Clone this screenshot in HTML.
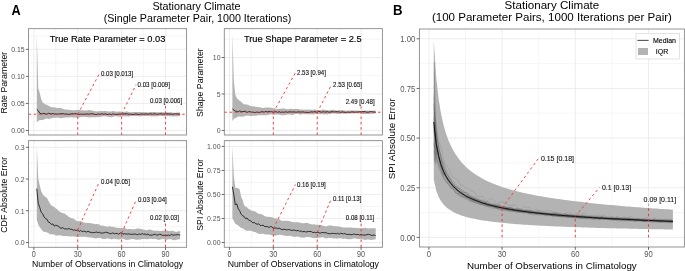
<!DOCTYPE html>
<html><head><meta charset="utf-8"><style>
html,body{margin:0;padding:0;background:#fff;}
body{width:685px;height:271px;overflow:hidden;}
svg{display:block;will-change:transform;}
</style></head><body>
<svg width="685" height="271" viewBox="0 0 685 271" font-family='"Liberation Sans", sans-serif'>
<rect width="685" height="271" fill="#fff"/>
<text x="11.50" y="14.90" font-size="13.4" text-anchor="start" fill="#000" font-weight="bold" transform="translate(11.50 14.90) scale(0.95 1.07) translate(-11.50 -14.90)">A</text>
<text x="196.50" y="9.90" font-size="10.8" text-anchor="middle" fill="#000" font-weight="normal">Stationary Climate</text>
<text x="197.50" y="21.50" font-size="10.7" text-anchor="middle" fill="#000" font-weight="normal">(Single Parameter Pair, 1000 Iterations)</text>
<line x1="28.50" x2="186.60" y1="116.95" y2="116.95" stroke="#f0f0f0" stroke-width="0.6"/>
<line x1="28.50" x2="186.60" y1="89.92" y2="89.92" stroke="#f0f0f0" stroke-width="0.6"/>
<line x1="28.50" x2="186.60" y1="62.89" y2="62.89" stroke="#f0f0f0" stroke-width="0.6"/>
<line x1="28.50" x2="186.60" y1="35.86" y2="35.86" stroke="#f0f0f0" stroke-width="0.6"/>
<line y1="28.65" y2="135.00" x1="55.79" x2="55.79" stroke="#f0f0f0" stroke-width="0.6"/>
<line y1="28.65" y2="135.00" x1="99.68" x2="99.68" stroke="#f0f0f0" stroke-width="0.6"/>
<line y1="28.65" y2="135.00" x1="143.56" x2="143.56" stroke="#f0f0f0" stroke-width="0.6"/>
<line x1="28.50" x2="186.60" y1="130.46" y2="130.46" stroke="#ebebeb" stroke-width="0.9"/>
<line x1="28.50" x2="186.60" y1="103.43" y2="103.43" stroke="#ebebeb" stroke-width="0.9"/>
<line x1="28.50" x2="186.60" y1="76.40" y2="76.40" stroke="#ebebeb" stroke-width="0.9"/>
<line x1="28.50" x2="186.60" y1="49.37" y2="49.37" stroke="#ebebeb" stroke-width="0.9"/>
<line y1="28.65" y2="135.00" x1="33.85" x2="33.85" stroke="#ebebeb" stroke-width="0.9"/>
<line y1="28.65" y2="135.00" x1="77.73" x2="77.73" stroke="#ebebeb" stroke-width="0.9"/>
<line y1="28.65" y2="135.00" x1="121.62" x2="121.62" stroke="#ebebeb" stroke-width="0.9"/>
<line y1="28.65" y2="135.00" x1="165.50" x2="165.50" stroke="#ebebeb" stroke-width="0.9"/>
<path d="M36.78,33.69 L38.24,88.29 L39.70,92.76 L41.16,99.05 L42.63,102.46 L44.09,103.61 L45.55,104.48 L47.02,104.82 L48.48,105.71 L49.94,106.44 L51.40,107.30 L52.87,107.26 L54.33,107.37 L55.79,107.71 L57.25,107.89 L58.72,107.99 L60.18,107.89 L61.64,108.29 L63.11,108.90 L64.57,109.40 L66.03,109.60 L67.49,109.79 L68.96,109.84 L70.42,110.11 L71.88,110.24 L73.35,110.21 L74.81,110.22 L76.27,109.92 L77.73,109.99 L79.20,109.98 L80.66,110.23 L82.12,110.24 L83.59,110.41 L85.05,110.58 L86.51,110.49 L87.97,110.31 L89.44,110.11 L90.90,110.31 L92.36,110.68 L93.82,111.02 L95.29,111.26 L96.75,111.42 L98.21,111.23 L99.68,111.22 L101.14,110.92 L102.60,111.13 L104.06,110.92 L105.53,110.97 L106.99,111.18 L108.45,111.55 L109.92,111.56 L111.38,111.39 L112.84,111.08 L114.30,111.34 L115.77,111.55 L117.23,111.74 L118.69,111.60 L120.16,111.54 L121.62,111.81 L123.08,112.03 L124.54,111.76 L126.01,111.49 L127.47,111.61 L128.93,111.95 L130.39,112.26 L131.86,112.31 L133.32,112.09 L134.78,112.08 L136.25,111.89 L137.71,112.06 L139.17,112.08 L140.63,112.02 L142.10,112.18 L143.56,112.00 L145.02,112.29 L146.49,112.18 L147.95,112.39 L149.41,112.34 L150.87,112.12 L152.34,111.88 L153.80,111.89 L155.26,111.94 L156.73,112.21 L158.19,112.19 L159.65,112.22 L161.11,112.05 L162.58,112.19 L164.04,112.15 L165.50,112.35 L166.96,112.29 L168.43,112.40 L169.89,112.36 L171.35,112.36 L172.82,112.67 L174.28,112.79 L175.74,112.68 L177.20,112.62 L178.67,112.41 L180.13,112.52 L180.13,116.11 L178.67,116.13 L177.20,116.17 L175.74,116.27 L174.28,116.16 L172.82,116.39 L171.35,116.05 L169.89,116.19 L168.43,115.99 L166.96,116.04 L165.50,116.07 L164.04,116.01 L162.58,115.96 L161.11,115.71 L159.65,115.76 L158.19,116.11 L156.73,116.28 L155.26,116.31 L153.80,116.19 L152.34,116.20 L150.87,116.21 L149.41,116.01 L147.95,115.95 L146.49,116.03 L145.02,116.04 L143.56,116.00 L142.10,115.89 L140.63,116.13 L139.17,116.13 L137.71,116.10 L136.25,115.96 L134.78,116.04 L133.32,116.01 L131.86,116.01 L130.39,116.10 L128.93,116.47 L127.47,116.37 L126.01,116.49 L124.54,116.21 L123.08,116.45 L121.62,116.33 L120.16,116.65 L118.69,116.46 L117.23,116.44 L115.77,116.07 L114.30,116.50 L112.84,116.81 L111.38,117.17 L109.92,116.94 L108.45,116.66 L106.99,116.45 L105.53,116.29 L104.06,116.22 L102.60,116.37 L101.14,116.78 L99.68,116.94 L98.21,116.96 L96.75,116.96 L95.29,117.22 L93.82,117.21 L92.36,117.19 L90.90,117.24 L89.44,117.38 L87.97,117.11 L86.51,117.02 L85.05,116.85 L83.59,116.92 L82.12,116.82 L80.66,117.03 L79.20,117.44 L77.73,117.40 L76.27,117.47 L74.81,117.40 L73.35,117.50 L71.88,117.23 L70.42,117.30 L68.96,117.29 L67.49,117.64 L66.03,117.34 L64.57,117.74 L63.11,117.87 L61.64,118.23 L60.18,118.01 L58.72,117.67 L57.25,117.46 L55.79,117.78 L54.33,117.84 L52.87,118.07 L51.40,118.19 L49.94,118.76 L48.48,118.88 L47.02,118.59 L45.55,118.86 L44.09,119.57 L42.63,119.94 L41.16,119.99 L39.70,120.20 L38.24,120.76 L36.78,122.59Z" fill="#b3b3b3" fill-opacity="1" stroke="none"/>
<path d="M36.78,109.43 L38.24,110.72 L39.70,113.05 L41.16,113.87 L42.63,113.63 L44.09,113.25 L45.55,114.02 L47.02,114.13 L48.48,113.28 L49.94,113.64 L51.40,113.93 L52.87,113.46 L54.33,114.11 L55.79,113.77 L57.25,114.28 L58.72,114.05 L60.18,113.68 L61.64,113.59 L63.11,113.64 L64.57,114.14 L66.03,113.95 L67.49,114.22 L68.96,114.39 L70.42,114.05 L71.88,113.74 L73.35,113.74 L74.81,113.87 L76.27,113.66 L77.73,114.28 L79.20,114.38 L80.66,114.12 L82.12,114.28 L83.59,114.34 L85.05,114.16 L86.51,113.98 L87.97,114.10 L89.44,114.25 L90.90,113.80 L92.36,113.67 L93.82,114.14 L95.29,114.47 L96.75,114.51 L98.21,113.78 L99.68,114.50 L101.14,113.92 L102.60,114.04 L104.06,114.27 L105.53,113.86 L106.99,114.52 L108.45,114.42 L109.92,114.15 L111.38,114.51 L112.84,113.83 L114.30,114.33 L115.77,114.41 L117.23,114.49 L118.69,114.00 L120.16,114.16 L121.62,114.00 L123.08,113.98 L124.54,113.86 L126.01,113.73 L127.47,113.96 L128.93,114.37 L130.39,114.14 L131.86,114.38 L133.32,114.52 L134.78,114.14 L136.25,113.94 L137.71,114.38 L139.17,114.31 L140.63,114.25 L142.10,113.96 L143.56,114.10 L145.02,114.03 L146.49,113.91 L147.95,114.21 L149.41,113.88 L150.87,113.79 L152.34,114.46 L153.80,113.77 L155.26,113.94 L156.73,114.42 L158.19,114.16 L159.65,114.02 L161.11,113.79 L162.58,114.22 L164.04,114.07 L165.50,113.82 L166.96,113.88 L168.43,113.76 L169.89,114.15 L171.35,114.00 L172.82,114.36 L174.28,113.94 L175.74,113.87 L177.20,114.01 L178.67,113.95 L180.13,114.36" fill="none" stroke="#000" stroke-width="0.75" stroke-opacity="1" stroke-linejoin="round"/>
<line x1="28.50" y1="114.24" x2="186.60" y2="114.24" stroke="#f03030" stroke-width="0.9" stroke-dasharray="2.5 2.8"/>
<line x1="77.73" y1="135.00" x2="77.73" y2="114.28" stroke="#f03030" stroke-width="0.9" stroke-dasharray="2.5 2.8"/>
<line x1="77.73" y1="114.28" x2="99.40" y2="73.60" stroke="#f03030" stroke-width="0.9" stroke-dasharray="2.5 2.8"/>
<text x="100.90" y="76.00" font-size="6.7" text-anchor="start" fill="#111" font-weight="normal" transform="translate(100.90 76.00) scale(0.915 1) translate(-100.90 -76.00)" stroke="#111" stroke-width="0.12">0.03 [0.013]</text>
<line x1="121.62" y1="135.00" x2="121.62" y2="114.00" stroke="#f03030" stroke-width="0.9" stroke-dasharray="2.5 2.8"/>
<line x1="121.62" y1="114.00" x2="136.10" y2="84.60" stroke="#f03030" stroke-width="0.9" stroke-dasharray="2.5 2.8"/>
<text x="137.60" y="87.00" font-size="6.7" text-anchor="start" fill="#111" font-weight="normal" transform="translate(137.60 87.00) scale(0.915 1) translate(-137.60 -87.00)" stroke="#111" stroke-width="0.12">0.03 [0.009]</text>
<line x1="165.50" y1="135.00" x2="165.50" y2="105.30" stroke="#f03030" stroke-width="0.9" stroke-dasharray="2.5 2.8"/>
<text x="149.90" y="103.00" font-size="6.7" text-anchor="start" fill="#111" font-weight="normal" transform="translate(149.90 103.00) scale(0.915 1) translate(-149.90 -103.00)" stroke="#111" stroke-width="0.12">0.03 [0.006]</text>
<text x="107.55" y="42.30" font-size="9.3" text-anchor="middle" fill="#000" font-weight="normal" stroke="#000" stroke-width="0.15">True Rate Parameter = 0.03</text>
<rect x="28.50" y="28.65" width="158.10" height="106.35" fill="none" stroke="#8a8a8a" stroke-width="0.9"/>
<line x1="25.90" x2="28.50" y1="130.46" y2="130.46" stroke="#444" stroke-width="0.8"/>
<text x="24.70" y="133.21" font-size="6.95" text-anchor="end" fill="#555" font-weight="normal" transform="translate(24.70 133.21) scale(1 1.1) translate(-24.70 -133.21)">0.00</text>
<line x1="25.90" x2="28.50" y1="103.43" y2="103.43" stroke="#444" stroke-width="0.8"/>
<text x="24.70" y="106.18" font-size="6.95" text-anchor="end" fill="#555" font-weight="normal" transform="translate(24.70 106.18) scale(1 1.1) translate(-24.70 -106.18)">0.05</text>
<line x1="25.90" x2="28.50" y1="76.40" y2="76.40" stroke="#444" stroke-width="0.8"/>
<text x="24.70" y="79.15" font-size="6.95" text-anchor="end" fill="#555" font-weight="normal" transform="translate(24.70 79.15) scale(1 1.1) translate(-24.70 -79.15)">0.10</text>
<line x1="25.90" x2="28.50" y1="49.37" y2="49.37" stroke="#444" stroke-width="0.8"/>
<text x="24.70" y="52.12" font-size="6.95" text-anchor="end" fill="#555" font-weight="normal" transform="translate(24.70 52.12) scale(1 1.1) translate(-24.70 -52.12)">0.15</text>
<text x="7.30" y="82.62" font-size="8.75" text-anchor="middle" fill="#000" font-weight="normal" transform="rotate(-90 7.30 82.62)">Rate Parameter</text>
<line x1="224.30" x2="382.40" y1="112.22" y2="112.22" stroke="#f0f0f0" stroke-width="0.6"/>
<line x1="224.30" x2="382.40" y1="75.74" y2="75.74" stroke="#f0f0f0" stroke-width="0.6"/>
<line x1="224.30" x2="382.40" y1="39.26" y2="39.26" stroke="#f0f0f0" stroke-width="0.6"/>
<line y1="28.65" y2="135.00" x1="251.39" x2="251.39" stroke="#f0f0f0" stroke-width="0.6"/>
<line y1="28.65" y2="135.00" x1="295.28" x2="295.28" stroke="#f0f0f0" stroke-width="0.6"/>
<line y1="28.65" y2="135.00" x1="339.16" x2="339.16" stroke="#f0f0f0" stroke-width="0.6"/>
<line x1="224.30" x2="382.40" y1="130.46" y2="130.46" stroke="#ebebeb" stroke-width="0.9"/>
<line x1="224.30" x2="382.40" y1="93.98" y2="93.98" stroke="#ebebeb" stroke-width="0.9"/>
<line x1="224.30" x2="382.40" y1="57.50" y2="57.50" stroke="#ebebeb" stroke-width="0.9"/>
<line y1="28.65" y2="135.00" x1="229.45" x2="229.45" stroke="#ebebeb" stroke-width="0.9"/>
<line y1="28.65" y2="135.00" x1="273.33" x2="273.33" stroke="#ebebeb" stroke-width="0.9"/>
<line y1="28.65" y2="135.00" x1="317.22" x2="317.22" stroke="#ebebeb" stroke-width="0.9"/>
<line y1="28.65" y2="135.00" x1="361.10" x2="361.10" stroke="#ebebeb" stroke-width="0.9"/>
<path d="M232.38,33.42 L233.84,80.90 L235.30,94.85 L236.76,98.08 L238.23,99.45 L239.69,100.72 L241.15,101.72 L242.62,103.21 L244.08,104.18 L245.54,104.58 L247.00,104.57 L248.47,104.96 L249.93,105.68 L251.39,105.97 L252.85,106.53 L254.32,106.29 L255.78,106.93 L257.24,106.97 L258.71,107.17 L260.17,107.36 L261.63,107.64 L263.09,107.95 L264.56,107.74 L266.02,107.47 L267.48,107.49 L268.95,107.48 L270.41,107.79 L271.87,107.75 L273.33,108.33 L274.80,108.58 L276.26,108.90 L277.72,108.86 L279.19,108.66 L280.65,108.67 L282.11,108.61 L283.57,108.61 L285.04,108.72 L286.50,108.90 L287.96,109.20 L289.42,109.10 L290.89,108.84 L292.35,108.99 L293.81,109.03 L295.28,109.04 L296.74,108.92 L298.20,109.11 L299.66,109.56 L301.13,109.60 L302.59,109.67 L304.05,109.50 L305.52,109.80 L306.98,109.59 L308.44,109.67 L309.90,109.51 L311.37,109.63 L312.83,109.64 L314.29,109.62 L315.76,109.71 L317.22,110.00 L318.68,110.00 L320.14,110.17 L321.61,109.73 L323.07,109.56 L324.53,109.66 L325.99,109.93 L327.46,110.37 L328.92,110.31 L330.38,110.15 L331.85,109.78 L333.31,109.78 L334.77,110.05 L336.23,110.44 L337.70,110.38 L339.16,110.09 L340.62,110.14 L342.09,110.08 L343.55,110.56 L345.01,110.54 L346.47,110.84 L347.94,110.52 L349.40,110.47 L350.86,110.42 L352.33,110.47 L353.79,110.60 L355.25,110.42 L356.71,110.69 L358.18,110.50 L359.64,110.75 L361.10,110.73 L362.56,110.73 L364.03,110.65 L365.49,110.58 L366.95,110.65 L368.42,110.62 L369.88,110.74 L371.34,110.85 L372.80,110.82 L374.27,110.59 L375.73,110.44 L375.73,113.56 L374.27,113.59 L372.80,113.75 L371.34,113.70 L369.88,114.01 L368.42,114.10 L366.95,114.12 L365.49,114.09 L364.03,113.97 L362.56,113.95 L361.10,113.61 L359.64,113.59 L358.18,113.45 L356.71,113.40 L355.25,113.35 L353.79,113.50 L352.33,113.54 L350.86,113.61 L349.40,113.45 L347.94,113.41 L346.47,113.68 L345.01,113.66 L343.55,113.63 L342.09,113.52 L340.62,113.63 L339.16,113.93 L337.70,113.88 L336.23,113.76 L334.77,113.61 L333.31,113.54 L331.85,113.53 L330.38,113.89 L328.92,114.05 L327.46,114.44 L325.99,114.36 L324.53,114.43 L323.07,114.14 L321.61,114.02 L320.14,114.15 L318.68,114.11 L317.22,114.00 L315.76,114.10 L314.29,114.24 L312.83,114.39 L311.37,114.15 L309.90,114.23 L308.44,114.30 L306.98,114.19 L305.52,114.21 L304.05,113.90 L302.59,114.28 L301.13,114.50 L299.66,114.53 L298.20,114.06 L296.74,113.68 L295.28,114.08 L293.81,114.54 L292.35,114.93 L290.89,114.76 L289.42,114.60 L287.96,114.41 L286.50,114.72 L285.04,114.97 L283.57,115.27 L282.11,115.21 L280.65,114.92 L279.19,114.72 L277.72,114.43 L276.26,114.56 L274.80,114.82 L273.33,114.74 L271.87,114.54 L270.41,114.26 L268.95,114.74 L267.48,115.30 L266.02,115.35 L264.56,115.28 L263.09,115.27 L261.63,115.27 L260.17,115.32 L258.71,114.95 L257.24,115.45 L255.78,115.63 L254.32,115.78 L252.85,115.78 L251.39,115.96 L249.93,115.96 L248.47,115.56 L247.00,115.63 L245.54,115.74 L244.08,116.40 L242.62,116.53 L241.15,116.77 L239.69,116.61 L238.23,116.51 L236.76,117.55 L235.30,118.03 L233.84,118.97 L232.38,121.08Z" fill="#b3b3b3" fill-opacity="1" stroke="none"/>
<path d="M232.38,108.72 L233.84,110.11 L235.30,111.02 L236.76,111.41 L238.23,111.83 L239.69,110.90 L241.15,111.57 L242.62,111.54 L244.08,111.49 L245.54,111.23 L247.00,112.55 L248.47,111.77 L249.93,111.63 L251.39,112.25 L252.85,112.07 L254.32,112.50 L255.78,112.33 L257.24,112.11 L258.71,112.44 L260.17,112.26 L261.63,111.51 L263.09,111.92 L264.56,111.97 L266.02,111.46 L267.48,111.91 L268.95,111.44 L270.41,111.83 L271.87,111.65 L273.33,112.44 L274.80,111.88 L276.26,111.71 L277.72,112.47 L279.19,111.53 L280.65,112.35 L282.11,112.02 L283.57,112.34 L285.04,112.00 L286.50,111.88 L287.96,112.45 L289.42,111.53 L290.89,112.08 L292.35,111.97 L293.81,111.89 L295.28,112.13 L296.74,112.21 L298.20,111.84 L299.66,111.93 L301.13,112.21 L302.59,111.78 L304.05,112.20 L305.52,112.48 L306.98,112.25 L308.44,112.45 L309.90,112.34 L311.37,111.74 L312.83,112.11 L314.29,111.60 L315.76,111.75 L317.22,112.44 L318.68,111.52 L320.14,111.56 L321.61,112.42 L323.07,111.60 L324.53,112.07 L325.99,112.02 L327.46,111.53 L328.92,112.25 L330.38,111.98 L331.85,111.57 L333.31,111.78 L334.77,112.03 L336.23,111.53 L337.70,111.69 L339.16,111.90 L340.62,112.37 L342.09,111.88 L343.55,112.04 L345.01,112.29 L346.47,112.43 L347.94,111.97 L349.40,112.36 L350.86,112.05 L352.33,111.84 L353.79,112.04 L355.25,112.23 L356.71,111.92 L358.18,112.08 L359.64,111.73 L361.10,111.97 L362.56,111.52 L364.03,111.57 L365.49,111.78 L366.95,112.25 L368.42,112.37 L369.88,111.62 L371.34,111.73 L372.80,111.88 L374.27,112.13 L375.73,112.22" fill="none" stroke="#000" stroke-width="0.75" stroke-opacity="1" stroke-linejoin="round"/>
<line x1="224.30" y1="112.22" x2="382.40" y2="112.22" stroke="#f03030" stroke-width="0.9" stroke-dasharray="2.5 2.8"/>
<line x1="273.33" y1="135.00" x2="273.33" y2="112.44" stroke="#f03030" stroke-width="0.9" stroke-dasharray="2.5 2.8"/>
<line x1="273.33" y1="112.44" x2="295.50" y2="72.60" stroke="#f03030" stroke-width="0.9" stroke-dasharray="2.5 2.8"/>
<text x="297.00" y="75.00" font-size="6.7" text-anchor="start" fill="#111" font-weight="normal" transform="translate(297.00 75.00) scale(0.915 1) translate(-297.00 -75.00)" stroke="#111" stroke-width="0.12">2.53 [0.94]</text>
<line x1="317.22" y1="135.00" x2="317.22" y2="112.44" stroke="#f03030" stroke-width="0.9" stroke-dasharray="2.5 2.8"/>
<line x1="317.22" y1="112.44" x2="331.60" y2="84.60" stroke="#f03030" stroke-width="0.9" stroke-dasharray="2.5 2.8"/>
<text x="333.10" y="87.00" font-size="6.7" text-anchor="start" fill="#111" font-weight="normal" transform="translate(333.10 87.00) scale(0.915 1) translate(-333.10 -87.00)" stroke="#111" stroke-width="0.12">2.53 [0.65]</text>
<line x1="361.10" y1="135.00" x2="361.10" y2="106.30" stroke="#f03030" stroke-width="0.9" stroke-dasharray="2.5 2.8"/>
<text x="345.70" y="104.00" font-size="6.7" text-anchor="start" fill="#111" font-weight="normal" transform="translate(345.70 104.00) scale(0.915 1) translate(-345.70 -104.00)" stroke="#111" stroke-width="0.12">2.49 [0.48]</text>
<text x="302.75" y="42.30" font-size="9.3" text-anchor="middle" fill="#000" font-weight="normal" stroke="#000" stroke-width="0.15">True Shape Parameter = 2.5</text>
<rect x="224.30" y="28.65" width="158.10" height="106.35" fill="none" stroke="#8a8a8a" stroke-width="0.9"/>
<line x1="221.70" x2="224.30" y1="130.46" y2="130.46" stroke="#444" stroke-width="0.8"/>
<text x="220.50" y="133.21" font-size="6.95" text-anchor="end" fill="#555" font-weight="normal" transform="translate(220.50 133.21) scale(1 1.1) translate(-220.50 -133.21)">0</text>
<line x1="221.70" x2="224.30" y1="93.98" y2="93.98" stroke="#444" stroke-width="0.8"/>
<text x="220.50" y="96.73" font-size="6.95" text-anchor="end" fill="#555" font-weight="normal" transform="translate(220.50 96.73) scale(1 1.1) translate(-220.50 -96.73)">5</text>
<line x1="221.70" x2="224.30" y1="57.50" y2="57.50" stroke="#444" stroke-width="0.8"/>
<text x="220.50" y="60.25" font-size="6.95" text-anchor="end" fill="#555" font-weight="normal" transform="translate(220.50 60.25) scale(1 1.1) translate(-220.50 -60.25)">10</text>
<text x="202.60" y="82.62" font-size="8.75" text-anchor="middle" fill="#000" font-weight="normal" transform="rotate(-90 202.60 82.62)">Shape Parameter</text>
<line x1="28.50" x2="186.60" y1="226.63" y2="226.63" stroke="#f0f0f0" stroke-width="0.6"/>
<line x1="28.50" x2="186.60" y1="194.91" y2="194.91" stroke="#f0f0f0" stroke-width="0.6"/>
<line x1="28.50" x2="186.60" y1="163.18" y2="163.18" stroke="#f0f0f0" stroke-width="0.6"/>
<line y1="140.66" y2="247.30" x1="55.79" x2="55.79" stroke="#f0f0f0" stroke-width="0.6"/>
<line y1="140.66" y2="247.30" x1="99.68" x2="99.68" stroke="#f0f0f0" stroke-width="0.6"/>
<line y1="140.66" y2="247.30" x1="143.56" x2="143.56" stroke="#f0f0f0" stroke-width="0.6"/>
<line x1="28.50" x2="186.60" y1="242.50" y2="242.50" stroke="#ebebeb" stroke-width="0.9"/>
<line x1="28.50" x2="186.60" y1="210.77" y2="210.77" stroke="#ebebeb" stroke-width="0.9"/>
<line x1="28.50" x2="186.60" y1="179.04" y2="179.04" stroke="#ebebeb" stroke-width="0.9"/>
<line x1="28.50" x2="186.60" y1="147.31" y2="147.31" stroke="#ebebeb" stroke-width="0.9"/>
<line y1="140.66" y2="247.30" x1="33.85" x2="33.85" stroke="#ebebeb" stroke-width="0.9"/>
<line y1="140.66" y2="247.30" x1="77.73" x2="77.73" stroke="#ebebeb" stroke-width="0.9"/>
<line y1="140.66" y2="247.30" x1="121.62" x2="121.62" stroke="#ebebeb" stroke-width="0.9"/>
<line y1="140.66" y2="247.30" x1="165.50" x2="165.50" stroke="#ebebeb" stroke-width="0.9"/>
<path d="M36.78,145.72 L38.24,178.40 L39.70,185.14 L41.16,190.97 L42.63,194.17 L44.09,196.05 L45.55,197.04 L47.02,198.12 L48.48,200.95 L49.94,203.44 L51.40,205.46 L52.87,206.35 L54.33,207.02 L55.79,208.38 L57.25,209.37 L58.72,210.96 L60.18,211.95 L61.64,212.75 L63.11,213.17 L64.57,213.62 L66.03,214.82 L67.49,215.77 L68.96,217.00 L70.42,217.83 L71.88,218.36 L73.35,218.54 L74.81,219.50 L76.27,220.75 L77.73,221.26 L79.20,221.13 L80.66,220.90 L82.12,221.75 L83.59,222.24 L85.05,222.99 L86.51,222.78 L87.97,223.12 L89.44,223.07 L90.90,223.18 L92.36,223.46 L93.82,223.79 L95.29,224.23 L96.75,223.97 L98.21,224.29 L99.68,224.82 L101.14,225.73 L102.60,225.58 L104.06,226.03 L105.53,226.25 L106.99,226.71 L108.45,226.57 L109.92,226.28 L111.38,226.69 L112.84,226.64 L114.30,227.32 L115.77,227.57 L117.23,227.85 L118.69,228.02 L120.16,228.12 L121.62,228.24 L123.08,227.91 L124.54,228.10 L126.01,228.73 L127.47,229.16 L128.93,228.96 L130.39,228.92 L131.86,229.21 L133.32,229.32 L134.78,229.25 L136.25,228.70 L137.71,228.61 L139.17,228.42 L140.63,228.89 L142.10,229.08 L143.56,229.65 L145.02,229.83 L146.49,230.23 L147.95,229.81 L149.41,229.44 L150.87,229.64 L152.34,230.16 L153.80,230.66 L155.26,230.64 L156.73,230.69 L158.19,230.75 L159.65,230.95 L161.11,230.89 L162.58,230.64 L164.04,230.45 L165.50,230.30 L166.96,230.55 L168.43,230.91 L169.89,231.04 L171.35,230.86 L172.82,230.84 L174.28,231.48 L175.74,231.83 L177.20,231.69 L178.67,231.33 L180.13,231.04 L180.13,239.16 L178.67,239.33 L177.20,239.51 L175.74,240.10 L174.28,240.19 L172.82,240.04 L171.35,239.26 L169.89,239.21 L168.43,239.31 L166.96,239.66 L165.50,239.55 L164.04,239.31 L162.58,238.97 L161.11,239.22 L159.65,239.65 L158.19,240.00 L156.73,239.27 L155.26,239.00 L153.80,239.09 L152.34,239.10 L150.87,238.82 L149.41,238.86 L147.95,239.19 L146.49,239.22 L145.02,238.97 L143.56,239.09 L142.10,239.11 L140.63,239.39 L139.17,239.39 L137.71,239.82 L136.25,239.76 L134.78,239.49 L133.32,239.04 L131.86,239.00 L130.39,239.28 L128.93,239.68 L127.47,239.76 L126.01,239.88 L124.54,239.27 L123.08,238.86 L121.62,238.49 L120.16,239.14 L118.69,239.44 L117.23,239.15 L115.77,238.64 L114.30,238.66 L112.84,239.00 L111.38,239.45 L109.92,238.72 L108.45,238.69 L106.99,238.35 L105.53,238.94 L104.06,239.00 L102.60,239.00 L101.14,238.31 L99.68,237.79 L98.21,237.93 L96.75,238.35 L95.29,238.57 L93.82,237.97 L92.36,237.67 L90.90,237.52 L89.44,237.60 L87.97,237.32 L86.51,236.94 L85.05,236.70 L83.59,236.76 L82.12,236.71 L80.66,236.77 L79.20,236.67 L77.73,236.97 L76.27,236.66 L74.81,236.66 L73.35,236.28 L71.88,236.50 L70.42,236.58 L68.96,236.50 L67.49,235.97 L66.03,235.97 L64.57,236.07 L63.11,236.10 L61.64,235.75 L60.18,235.19 L58.72,235.52 L57.25,235.57 L55.79,235.44 L54.33,234.61 L52.87,234.41 L51.40,234.07 L49.94,234.41 L48.48,233.08 L47.02,232.40 L45.55,231.73 L44.09,232.03 L42.63,231.02 L41.16,229.04 L39.70,227.30 L38.24,224.61 L36.78,219.79Z" fill="#b3b3b3" fill-opacity="1" stroke="none"/>
<path d="M36.78,188.56 L38.24,203.32 L39.70,207.27 L41.16,212.28 L42.63,213.66 L44.09,217.03 L45.55,218.61 L47.02,219.31 L48.48,222.23 L49.94,222.70 L51.40,224.42 L52.87,223.93 L54.33,226.17 L55.79,225.16 L57.25,225.68 L58.72,226.23 L60.18,228.07 L61.64,228.12 L63.11,227.68 L64.57,229.15 L66.03,228.78 L67.49,229.09 L68.96,228.52 L70.42,229.42 L71.88,229.19 L73.35,230.37 L74.81,229.75 L76.27,230.58 L77.73,229.93 L79.20,231.49 L80.66,230.43 L82.12,231.62 L83.59,231.21 L85.05,231.39 L86.51,232.13 L87.97,231.16 L89.44,232.13 L90.90,232.25 L92.36,232.74 L93.82,232.48 L95.29,232.33 L96.75,232.04 L98.21,232.70 L99.68,232.27 L101.14,233.28 L102.60,232.91 L104.06,232.89 L105.53,232.18 L106.99,232.48 L108.45,232.83 L109.92,233.90 L111.38,233.40 L112.84,232.96 L114.30,233.76 L115.77,233.32 L117.23,233.54 L118.69,234.29 L120.16,232.84 L121.62,233.20 L123.08,234.16 L124.54,233.59 L126.01,234.14 L127.47,234.06 L128.93,233.86 L130.39,234.28 L131.86,234.27 L133.32,234.23 L134.78,233.86 L136.25,234.53 L137.71,234.66 L139.17,233.89 L140.63,234.54 L142.10,233.65 L143.56,234.27 L145.02,234.07 L146.49,234.70 L147.95,233.99 L149.41,235.13 L150.87,235.09 L152.34,235.19 L153.80,234.35 L155.26,234.34 L156.73,235.17 L158.19,234.87 L159.65,234.25 L161.11,234.64 L162.58,235.42 L164.04,235.25 L165.50,235.38 L166.96,235.46 L168.43,235.07 L169.89,235.59 L171.35,234.36 L172.82,235.12 L174.28,235.02 L175.74,234.84 L177.20,234.69 L178.67,234.64 L180.13,235.30" fill="none" stroke="#000" stroke-width="0.75" stroke-opacity="1" stroke-linejoin="round"/>
<line x1="77.73" y1="247.30" x2="77.73" y2="229.93" stroke="#f03030" stroke-width="0.9" stroke-dasharray="2.5 2.8"/>
<line x1="77.73" y1="229.93" x2="99.50" y2="181.60" stroke="#f03030" stroke-width="0.9" stroke-dasharray="2.5 2.8"/>
<text x="101.00" y="184.00" font-size="6.7" text-anchor="start" fill="#111" font-weight="normal" transform="translate(101.00 184.00) scale(0.915 1) translate(-101.00 -184.00)" stroke="#111" stroke-width="0.12">0.04 [0.05]</text>
<line x1="121.62" y1="247.30" x2="121.62" y2="233.20" stroke="#f03030" stroke-width="0.9" stroke-dasharray="2.5 2.8"/>
<line x1="121.62" y1="233.20" x2="136.40" y2="199.60" stroke="#f03030" stroke-width="0.9" stroke-dasharray="2.5 2.8"/>
<text x="137.90" y="202.00" font-size="6.7" text-anchor="start" fill="#111" font-weight="normal" transform="translate(137.90 202.00) scale(0.915 1) translate(-137.90 -202.00)" stroke="#111" stroke-width="0.12">0.03 [0.04]</text>
<line x1="165.50" y1="247.30" x2="165.50" y2="222.30" stroke="#f03030" stroke-width="0.9" stroke-dasharray="2.5 2.8"/>
<text x="150.00" y="220.00" font-size="6.7" text-anchor="start" fill="#111" font-weight="normal" transform="translate(150.00 220.00) scale(0.915 1) translate(-150.00 -220.00)" stroke="#111" stroke-width="0.12">0.02 [0.03]</text>
<rect x="28.50" y="140.66" width="158.10" height="106.64" fill="none" stroke="#8a8a8a" stroke-width="0.9"/>
<line x1="25.90" x2="28.50" y1="242.50" y2="242.50" stroke="#444" stroke-width="0.8"/>
<text x="24.70" y="245.25" font-size="6.95" text-anchor="end" fill="#555" font-weight="normal" transform="translate(24.70 245.25) scale(1 1.1) translate(-24.70 -245.25)">0.0</text>
<line x1="25.90" x2="28.50" y1="210.77" y2="210.77" stroke="#444" stroke-width="0.8"/>
<text x="24.70" y="213.52" font-size="6.95" text-anchor="end" fill="#555" font-weight="normal" transform="translate(24.70 213.52) scale(1 1.1) translate(-24.70 -213.52)">0.1</text>
<line x1="25.90" x2="28.50" y1="179.04" y2="179.04" stroke="#444" stroke-width="0.8"/>
<text x="24.70" y="181.79" font-size="6.95" text-anchor="end" fill="#555" font-weight="normal" transform="translate(24.70 181.79) scale(1 1.1) translate(-24.70 -181.79)">0.2</text>
<line x1="25.90" x2="28.50" y1="147.31" y2="147.31" stroke="#444" stroke-width="0.8"/>
<text x="24.70" y="150.06" font-size="6.95" text-anchor="end" fill="#555" font-weight="normal" transform="translate(24.70 150.06) scale(1 1.1) translate(-24.70 -150.06)">0.3</text>
<line x1="33.85" x2="33.85" y1="247.30" y2="249.90" stroke="#444" stroke-width="0.8"/>
<text x="33.85" y="256.80" font-size="7.2" text-anchor="middle" fill="#555" font-weight="normal" transform="translate(33.85 256.80) scale(1 1.15) translate(-33.85 -256.80)">0</text>
<line x1="77.73" x2="77.73" y1="247.30" y2="249.90" stroke="#444" stroke-width="0.8"/>
<text x="77.73" y="256.80" font-size="7.2" text-anchor="middle" fill="#555" font-weight="normal" transform="translate(77.73 256.80) scale(1 1.15) translate(-77.73 -256.80)">30</text>
<line x1="121.62" x2="121.62" y1="247.30" y2="249.90" stroke="#444" stroke-width="0.8"/>
<text x="121.62" y="256.80" font-size="7.2" text-anchor="middle" fill="#555" font-weight="normal" transform="translate(121.62 256.80) scale(1 1.15) translate(-121.62 -256.80)">60</text>
<line x1="165.50" x2="165.50" y1="247.30" y2="249.90" stroke="#444" stroke-width="0.8"/>
<text x="165.50" y="256.80" font-size="7.2" text-anchor="middle" fill="#555" font-weight="normal" transform="translate(165.50 256.80) scale(1 1.15) translate(-165.50 -256.80)">90</text>
<text x="7.30" y="194.78" font-size="8.75" text-anchor="middle" fill="#000" font-weight="normal" transform="rotate(-90 7.30 194.78)">CDF Absolute Error</text>
<line x1="224.30" x2="382.40" y1="230.49" y2="230.49" stroke="#f0f0f0" stroke-width="0.6"/>
<line x1="224.30" x2="382.40" y1="206.46" y2="206.46" stroke="#f0f0f0" stroke-width="0.6"/>
<line x1="224.30" x2="382.40" y1="182.44" y2="182.44" stroke="#f0f0f0" stroke-width="0.6"/>
<line x1="224.30" x2="382.40" y1="158.41" y2="158.41" stroke="#f0f0f0" stroke-width="0.6"/>
<line y1="140.66" y2="247.30" x1="251.39" x2="251.39" stroke="#f0f0f0" stroke-width="0.6"/>
<line y1="140.66" y2="247.30" x1="295.28" x2="295.28" stroke="#f0f0f0" stroke-width="0.6"/>
<line y1="140.66" y2="247.30" x1="339.16" x2="339.16" stroke="#f0f0f0" stroke-width="0.6"/>
<line x1="224.30" x2="382.40" y1="242.50" y2="242.50" stroke="#ebebeb" stroke-width="0.9"/>
<line x1="224.30" x2="382.40" y1="218.47" y2="218.47" stroke="#ebebeb" stroke-width="0.9"/>
<line x1="224.30" x2="382.40" y1="194.45" y2="194.45" stroke="#ebebeb" stroke-width="0.9"/>
<line x1="224.30" x2="382.40" y1="170.43" y2="170.43" stroke="#ebebeb" stroke-width="0.9"/>
<line x1="224.30" x2="382.40" y1="146.40" y2="146.40" stroke="#ebebeb" stroke-width="0.9"/>
<line y1="140.66" y2="247.30" x1="229.45" x2="229.45" stroke="#ebebeb" stroke-width="0.9"/>
<line y1="140.66" y2="247.30" x1="273.33" x2="273.33" stroke="#ebebeb" stroke-width="0.9"/>
<line y1="140.66" y2="247.30" x1="317.22" x2="317.22" stroke="#ebebeb" stroke-width="0.9"/>
<line y1="140.66" y2="247.30" x1="361.10" x2="361.10" stroke="#ebebeb" stroke-width="0.9"/>
<path d="M232.38,145.44 L233.84,176.57 L235.30,187.88 L236.76,187.83 L238.23,188.35 L239.69,189.45 L241.15,196.68 L242.62,199.97 L244.08,205.09 L245.54,206.74 L247.00,207.32 L248.47,208.64 L249.93,209.60 L251.39,210.63 L252.85,210.83 L254.32,211.20 L255.78,211.82 L257.24,213.05 L258.71,213.71 L260.17,214.04 L261.63,214.25 L263.09,215.12 L264.56,215.94 L266.02,216.73 L267.48,216.86 L268.95,216.88 L270.41,216.97 L271.87,217.34 L273.33,217.82 L274.80,218.42 L276.26,218.57 L277.72,219.05 L279.19,219.35 L280.65,220.32 L282.11,220.89 L283.57,220.86 L285.04,220.65 L286.50,220.84 L287.96,220.81 L289.42,221.30 L290.89,221.43 L292.35,222.26 L293.81,222.01 L295.28,222.47 L296.74,222.08 L298.20,222.60 L299.66,222.47 L301.13,222.92 L302.59,223.31 L304.05,223.22 L305.52,223.07 L306.98,222.83 L308.44,223.22 L309.90,224.03 L311.37,224.18 L312.83,224.56 L314.29,224.14 L315.76,224.71 L317.22,224.65 L318.68,224.83 L320.14,225.01 L321.61,225.16 L323.07,225.84 L324.53,226.08 L325.99,226.47 L327.46,225.93 L328.92,225.39 L330.38,225.17 L331.85,225.77 L333.31,226.08 L334.77,226.14 L336.23,226.19 L337.70,226.36 L339.16,226.41 L340.62,226.78 L342.09,227.16 L343.55,227.50 L345.01,227.51 L346.47,227.47 L347.94,227.50 L349.40,227.57 L350.86,227.57 L352.33,227.87 L353.79,227.68 L355.25,227.90 L356.71,227.72 L358.18,228.18 L359.64,228.03 L361.10,228.46 L362.56,227.89 L364.03,228.02 L365.49,227.87 L366.95,228.34 L368.42,228.40 L369.88,228.32 L371.34,228.15 L372.80,228.13 L374.27,228.35 L375.73,228.25 L375.73,239.31 L374.27,239.38 L372.80,239.77 L371.34,240.07 L369.88,239.70 L368.42,239.57 L366.95,239.52 L365.49,239.93 L364.03,239.80 L362.56,239.25 L361.10,238.78 L359.64,238.96 L358.18,239.08 L356.71,238.92 L355.25,238.33 L353.79,238.58 L352.33,238.64 L350.86,239.16 L349.40,239.31 L347.94,239.16 L346.47,239.05 L345.01,238.59 L343.55,239.03 L342.09,238.41 L340.62,238.18 L339.16,238.16 L337.70,238.49 L336.23,238.82 L334.77,238.29 L333.31,238.44 L331.85,237.99 L330.38,237.88 L328.92,237.75 L327.46,238.20 L325.99,238.47 L324.53,237.92 L323.07,237.33 L321.61,237.25 L320.14,237.68 L318.68,237.65 L317.22,237.93 L315.76,238.06 L314.29,238.22 L312.83,237.92 L311.37,237.59 L309.90,237.35 L308.44,236.88 L306.98,237.06 L305.52,237.35 L304.05,237.72 L302.59,237.51 L301.13,237.67 L299.66,237.10 L298.20,236.80 L296.74,236.62 L295.28,236.65 L293.81,236.89 L292.35,236.21 L290.89,236.28 L289.42,235.69 L287.96,236.11 L286.50,235.82 L285.04,235.96 L283.57,235.35 L282.11,235.34 L280.65,234.80 L279.19,234.63 L277.72,234.97 L276.26,235.41 L274.80,235.69 L273.33,235.36 L271.87,235.21 L270.41,234.95 L268.95,234.47 L267.48,234.45 L266.02,234.38 L264.56,234.35 L263.09,233.82 L261.63,233.84 L260.17,234.00 L258.71,233.64 L257.24,233.24 L255.78,232.37 L254.32,232.08 L252.85,231.38 L251.39,230.90 L249.93,230.40 L248.47,230.65 L247.00,230.79 L245.54,230.13 L244.08,229.20 L242.62,228.36 L241.15,228.08 L239.69,226.67 L238.23,225.60 L236.76,224.47 L235.30,223.67 L233.84,221.01 L232.38,218.18Z" fill="#b3b3b3" fill-opacity="1" stroke="none"/>
<path d="M232.38,186.76 L233.84,194.91 L235.30,204.74 L236.76,203.86 L238.23,208.89 L239.69,210.74 L241.15,214.26 L242.62,215.78 L244.08,216.40 L245.54,218.68 L247.00,218.00 L248.47,219.96 L249.93,220.63 L251.39,221.37 L252.85,222.90 L254.32,222.55 L255.78,223.66 L257.24,224.24 L258.71,223.81 L260.17,225.43 L261.63,225.53 L263.09,225.17 L264.56,226.35 L266.02,226.65 L267.48,226.55 L268.95,227.43 L270.41,226.62 L271.87,226.77 L273.33,228.49 L274.80,228.10 L276.26,227.90 L277.72,228.69 L279.19,228.10 L280.65,228.95 L282.11,229.63 L283.57,229.27 L285.04,229.33 L286.50,229.93 L287.96,229.66 L289.42,229.65 L290.89,230.20 L292.35,230.38 L293.81,230.04 L295.28,230.42 L296.74,230.80 L298.20,230.32 L299.66,231.56 L301.13,230.83 L302.59,231.83 L304.05,231.33 L305.52,231.97 L306.98,231.80 L308.44,231.44 L309.90,231.53 L311.37,231.63 L312.83,232.52 L314.29,232.27 L315.76,232.74 L317.22,232.33 L318.68,232.54 L320.14,233.28 L321.61,232.59 L323.07,232.51 L324.53,232.80 L325.99,232.47 L327.46,233.51 L328.92,233.62 L330.38,233.89 L331.85,233.31 L333.31,233.47 L334.77,233.53 L336.23,233.85 L337.70,233.18 L339.16,234.25 L340.62,233.18 L342.09,233.71 L343.55,233.81 L345.01,233.53 L346.47,234.35 L347.94,234.54 L349.40,234.38 L350.86,234.80 L352.33,234.49 L353.79,234.13 L355.25,234.32 L356.71,234.73 L358.18,234.34 L359.64,235.08 L361.10,234.14 L362.56,235.07 L364.03,235.01 L365.49,235.19 L366.95,234.52 L368.42,234.38 L369.88,234.49 L371.34,235.52 L372.80,235.09 L374.27,235.20 L375.73,235.45" fill="none" stroke="#000" stroke-width="0.75" stroke-opacity="1" stroke-linejoin="round"/>
<line x1="273.33" y1="247.30" x2="273.33" y2="228.49" stroke="#f03030" stroke-width="0.9" stroke-dasharray="2.5 2.8"/>
<line x1="273.33" y1="228.49" x2="295.40" y2="184.60" stroke="#f03030" stroke-width="0.9" stroke-dasharray="2.5 2.8"/>
<text x="296.90" y="187.00" font-size="6.7" text-anchor="start" fill="#111" font-weight="normal" transform="translate(296.90 187.00) scale(0.915 1) translate(-296.90 -187.00)" stroke="#111" stroke-width="0.12">0.16 [0.19]</text>
<line x1="317.22" y1="247.30" x2="317.22" y2="232.33" stroke="#f03030" stroke-width="0.9" stroke-dasharray="2.5 2.8"/>
<line x1="317.22" y1="232.33" x2="331.40" y2="198.60" stroke="#f03030" stroke-width="0.9" stroke-dasharray="2.5 2.8"/>
<text x="332.90" y="201.00" font-size="6.7" text-anchor="start" fill="#111" font-weight="normal" transform="translate(332.90 201.00) scale(0.915 1) translate(-332.90 -201.00)" stroke="#111" stroke-width="0.12">0.11 [0.13]</text>
<line x1="361.10" y1="247.30" x2="361.10" y2="222.30" stroke="#f03030" stroke-width="0.9" stroke-dasharray="2.5 2.8"/>
<text x="345.80" y="220.00" font-size="6.7" text-anchor="start" fill="#111" font-weight="normal" transform="translate(345.80 220.00) scale(0.915 1) translate(-345.80 -220.00)" stroke="#111" stroke-width="0.12">0.08 [0.11]</text>
<rect x="224.30" y="140.66" width="158.10" height="106.64" fill="none" stroke="#8a8a8a" stroke-width="0.9"/>
<line x1="221.70" x2="224.30" y1="242.50" y2="242.50" stroke="#444" stroke-width="0.8"/>
<text x="220.50" y="245.25" font-size="6.95" text-anchor="end" fill="#555" font-weight="normal" transform="translate(220.50 245.25) scale(1 1.1) translate(-220.50 -245.25)">0.00</text>
<line x1="221.70" x2="224.30" y1="218.47" y2="218.47" stroke="#444" stroke-width="0.8"/>
<text x="220.50" y="221.23" font-size="6.95" text-anchor="end" fill="#555" font-weight="normal" transform="translate(220.50 221.23) scale(1 1.1) translate(-220.50 -221.23)">0.25</text>
<line x1="221.70" x2="224.30" y1="194.45" y2="194.45" stroke="#444" stroke-width="0.8"/>
<text x="220.50" y="197.20" font-size="6.95" text-anchor="end" fill="#555" font-weight="normal" transform="translate(220.50 197.20) scale(1 1.1) translate(-220.50 -197.20)">0.50</text>
<line x1="221.70" x2="224.30" y1="170.43" y2="170.43" stroke="#444" stroke-width="0.8"/>
<text x="220.50" y="173.18" font-size="6.95" text-anchor="end" fill="#555" font-weight="normal" transform="translate(220.50 173.18) scale(1 1.1) translate(-220.50 -173.18)">0.75</text>
<line x1="221.70" x2="224.30" y1="146.40" y2="146.40" stroke="#444" stroke-width="0.8"/>
<text x="220.50" y="149.15" font-size="6.95" text-anchor="end" fill="#555" font-weight="normal" transform="translate(220.50 149.15) scale(1 1.1) translate(-220.50 -149.15)">1.00</text>
<line x1="229.45" x2="229.45" y1="247.30" y2="249.90" stroke="#444" stroke-width="0.8"/>
<text x="229.45" y="256.80" font-size="7.2" text-anchor="middle" fill="#555" font-weight="normal" transform="translate(229.45 256.80) scale(1 1.15) translate(-229.45 -256.80)">0</text>
<line x1="273.33" x2="273.33" y1="247.30" y2="249.90" stroke="#444" stroke-width="0.8"/>
<text x="273.33" y="256.80" font-size="7.2" text-anchor="middle" fill="#555" font-weight="normal" transform="translate(273.33 256.80) scale(1 1.15) translate(-273.33 -256.80)">30</text>
<line x1="317.22" x2="317.22" y1="247.30" y2="249.90" stroke="#444" stroke-width="0.8"/>
<text x="317.22" y="256.80" font-size="7.2" text-anchor="middle" fill="#555" font-weight="normal" transform="translate(317.22 256.80) scale(1 1.15) translate(-317.22 -256.80)">60</text>
<line x1="361.10" x2="361.10" y1="247.30" y2="249.90" stroke="#444" stroke-width="0.8"/>
<text x="361.10" y="256.80" font-size="7.2" text-anchor="middle" fill="#555" font-weight="normal" transform="translate(361.10 256.80) scale(1 1.15) translate(-361.10 -256.80)">90</text>
<text x="202.60" y="194.78" font-size="8.75" text-anchor="middle" fill="#000" font-weight="normal" transform="rotate(-90 202.60 194.78)">SPI Absolute Error</text>
<text x="107.55" y="266.60" font-size="8.7" text-anchor="middle" fill="#000" font-weight="normal">Number of Observations in Climatology</text>
<text x="303.35" y="266.60" font-size="8.7" text-anchor="middle" fill="#000" font-weight="normal">Number of Observations in Climatology</text>
<text x="392.90" y="14.90" font-size="13.2" text-anchor="start" fill="#000" font-weight="bold" transform="translate(392.90 14.90) scale(1 1.05) translate(-392.90 -14.90)">B</text>
<text x="551.90" y="8.50" font-size="11.6" text-anchor="middle" fill="#000" font-weight="normal">Stationary Climate</text>
<text x="551.90" y="20.60" font-size="11.55" text-anchor="middle" fill="#000" font-weight="normal">(100 Parameter Pairs, 1000 Iterations per Pair)</text>
<line x1="419.40" x2="684.40" y1="212.58" y2="212.58" stroke="#f0f0f0" stroke-width="0.6"/>
<line x1="419.40" x2="684.40" y1="162.93" y2="162.93" stroke="#f0f0f0" stroke-width="0.6"/>
<line x1="419.40" x2="684.40" y1="113.28" y2="113.28" stroke="#f0f0f0" stroke-width="0.6"/>
<line x1="419.40" x2="684.40" y1="63.62" y2="63.62" stroke="#f0f0f0" stroke-width="0.6"/>
<line y1="29.00" y2="247.00" x1="465.50" x2="465.50" stroke="#f0f0f0" stroke-width="0.6"/>
<line y1="29.00" y2="247.00" x1="538.70" x2="538.70" stroke="#f0f0f0" stroke-width="0.6"/>
<line y1="29.00" y2="247.00" x1="611.90" x2="611.90" stroke="#f0f0f0" stroke-width="0.6"/>
<line x1="419.40" x2="684.40" y1="237.40" y2="237.40" stroke="#ebebeb" stroke-width="0.9"/>
<line x1="419.40" x2="684.40" y1="187.75" y2="187.75" stroke="#ebebeb" stroke-width="0.9"/>
<line x1="419.40" x2="684.40" y1="138.10" y2="138.10" stroke="#ebebeb" stroke-width="0.9"/>
<line x1="419.40" x2="684.40" y1="88.45" y2="88.45" stroke="#ebebeb" stroke-width="0.9"/>
<line x1="419.40" x2="684.40" y1="38.80" y2="38.80" stroke="#ebebeb" stroke-width="0.9"/>
<line y1="29.00" y2="247.00" x1="428.90" x2="428.90" stroke="#ebebeb" stroke-width="0.9"/>
<line y1="29.00" y2="247.00" x1="502.10" x2="502.10" stroke="#ebebeb" stroke-width="0.9"/>
<line y1="29.00" y2="247.00" x1="575.30" x2="575.30" stroke="#ebebeb" stroke-width="0.9"/>
<line y1="29.00" y2="247.00" x1="648.50" x2="648.50" stroke="#ebebeb" stroke-width="0.9"/>
<path d="M433.78,40.51 L436.22,77.45 L438.66,99.29 L441.10,114.11 L443.54,125.00 L445.98,133.43 L448.42,140.21 L450.86,145.80 L453.30,150.52 L455.74,154.58 L458.18,158.10 L460.62,161.21 L463.06,163.97 L465.50,166.45 L467.94,168.69 L470.38,170.72 L472.82,172.58 L475.26,174.29 L477.70,175.87 L480.14,177.33 L482.58,178.69 L485.02,179.96 L487.46,181.14 L489.90,182.26 L492.34,183.31 L494.78,184.29 L497.22,185.23 L499.66,186.11 L502.10,186.95 L504.54,187.75 L506.98,188.51 L509.42,189.24 L511.86,189.93 L514.30,190.59 L516.74,191.22 L519.18,191.83 L521.62,192.41 L524.06,192.97 L526.50,193.51 L528.94,194.03 L531.38,194.53 L533.82,195.01 L536.26,195.47 L538.70,195.92 L541.14,196.36 L543.58,196.77 L546.02,197.18 L548.46,197.58 L550.90,197.96 L553.34,198.33 L555.78,198.69 L558.22,199.04 L560.66,199.37 L563.10,199.70 L565.54,200.02 L567.98,200.34 L570.42,200.64 L572.86,200.94 L575.30,201.22 L577.74,201.53 L580.18,201.82 L582.62,202.11 L585.06,202.39 L587.50,202.66 L589.94,202.93 L592.38,203.20 L594.82,203.45 L597.26,203.71 L599.70,203.95 L602.14,204.20 L604.58,204.43 L607.02,204.67 L609.46,204.90 L611.90,205.12 L614.34,205.34 L616.78,205.56 L619.22,205.77 L621.66,205.98 L624.10,206.19 L626.54,206.39 L628.98,206.59 L631.42,206.78 L633.86,206.97 L636.30,207.16 L638.74,207.35 L641.18,207.53 L643.62,207.71 L646.06,207.89 L648.50,208.06 L650.94,208.24 L653.38,208.40 L655.82,208.57 L658.26,208.74 L660.70,208.90 L663.14,209.06 L665.58,209.22 L668.02,209.37 L670.46,209.53 L672.90,209.68 L672.90,229.51 L670.46,229.47 L668.02,229.43 L665.58,229.39 L663.14,229.35 L660.70,229.31 L658.26,229.26 L655.82,229.22 L653.38,229.17 L650.94,229.13 L648.50,229.08 L646.06,229.03 L643.62,228.98 L641.18,228.94 L638.74,228.89 L636.30,228.83 L633.86,228.78 L631.42,228.73 L628.98,228.68 L626.54,228.62 L624.10,228.57 L621.66,228.51 L619.22,228.45 L616.78,228.39 L614.34,228.33 L611.90,228.27 L609.46,228.21 L607.02,228.15 L604.58,228.08 L602.14,228.01 L599.70,227.95 L597.26,227.88 L594.82,227.81 L592.38,227.73 L589.94,227.66 L587.50,227.58 L585.06,227.51 L582.62,227.43 L580.18,227.35 L577.74,227.26 L575.30,227.18 L572.86,227.09 L570.42,227.00 L567.98,226.91 L565.54,226.81 L563.10,226.72 L560.66,226.61 L558.22,226.51 L555.78,226.41 L553.34,226.30 L550.90,226.18 L548.46,226.07 L546.02,225.95 L543.58,225.83 L541.14,225.70 L538.70,225.57 L536.26,225.43 L533.82,225.29 L531.38,225.15 L528.94,225.00 L526.50,224.84 L524.06,224.68 L521.62,224.51 L519.18,224.33 L516.74,224.15 L514.30,223.96 L511.86,223.76 L509.42,223.55 L506.98,223.33 L504.54,223.10 L502.10,222.86 L499.66,222.61 L497.22,222.34 L494.78,222.06 L492.34,221.77 L489.90,221.45 L487.46,221.12 L485.02,220.76 L482.58,220.38 L480.14,219.97 L477.70,219.54 L475.26,219.07 L472.82,218.55 L470.38,218.00 L467.94,217.39 L465.50,216.73 L463.06,215.99 L460.62,215.17 L458.18,214.24 L455.74,213.20 L453.30,212.00 L450.86,210.60 L448.42,208.95 L445.98,206.95 L443.54,204.47 L441.10,201.28 L438.66,196.94 L436.22,190.57 L433.78,179.86Z" fill="#b3b3b3" fill-opacity="1" stroke="none"/>
<path d="M433.7,62 L434.6,62 L435.6,110 L437.2,150 L436.0,165 L433.7,160 Z" fill="#000" fill-opacity="0.2"/>
<path d="M433.78,142.33 L436.22,154.85 L438.66,164.75 L441.10,170.85 L443.54,178.68 L445.98,181.45 L448.42,183.48 L450.86,187.11 L453.30,188.88 L455.74,192.98 L458.18,193.91 L460.62,196.08 L463.06,196.81 L465.50,198.06 L467.94,200.58 L470.38,201.18 L472.82,202.03 L475.26,201.48 L477.70,202.68 L480.14,204.86 L482.58,204.15 L485.02,206.33 L487.46,205.90 L489.90,207.60 L492.34,208.45 L494.78,207.07 L497.22,209.04 L499.66,209.52 L502.10,208.30 L504.54,208.99 L506.98,210.68 L509.42,209.62 L511.86,210.92 L514.30,210.99 L516.74,212.36 L519.18,211.11 L521.62,211.98 L524.06,211.70 L526.50,212.16 L528.94,213.72 L531.38,213.86 L533.82,214.54 L536.26,214.85 L538.70,215.27 L541.14,215.01 L543.58,214.61 L546.02,216.10 L548.46,214.90 L550.90,215.83 L553.34,216.10 L555.78,215.24 L558.22,216.16 L560.66,216.70 L563.10,216.55 L565.54,216.27 L567.98,217.81 L570.42,216.07 L572.86,218.23 L575.30,216.88 L577.74,216.85 L580.18,218.74 L582.62,217.29 L585.06,218.33 L587.50,218.04 L589.94,219.37 L592.38,219.43 L594.82,219.30 L597.26,217.83 L599.70,219.54 L602.14,218.52 L604.58,218.29 L607.02,218.39 L609.46,219.75 L611.90,219.86 L614.34,219.63 L616.78,219.23 L619.22,220.72 L621.66,219.52 L624.10,219.53 L626.54,219.51 L628.98,221.32 L631.42,219.55 L633.86,221.42 L636.30,221.01 L638.74,220.55 L641.18,220.02 L643.62,221.31 L646.06,220.21 L648.50,221.08 L650.94,221.65 L653.38,221.74 L655.82,222.11 L658.26,222.41 L660.70,222.35 L663.14,221.33 L665.58,220.79 L668.02,222.58 L670.46,222.90 L672.90,221.06" fill="none" stroke="#444" stroke-width="0.6" stroke-opacity="0.24" stroke-linejoin="round"/>
<path d="M433.78,143.06 L436.22,156.64 L438.66,166.26 L441.10,171.70 L443.54,176.15 L445.98,181.34 L448.42,184.79 L450.86,188.58 L453.30,188.75 L455.74,193.10 L458.18,193.77 L460.62,194.56 L463.06,197.74 L465.50,197.62 L467.94,198.30 L470.38,200.15 L472.82,200.79 L475.26,203.29 L477.70,203.39 L480.14,204.83 L482.58,204.00 L485.02,205.93 L487.46,206.22 L489.90,205.62 L492.34,206.52 L494.78,206.80 L497.22,208.47 L499.66,208.88 L502.10,208.82 L504.54,209.80 L506.98,210.63 L509.42,210.79 L511.86,211.73 L514.30,211.60 L516.74,210.64 L519.18,211.04 L521.62,212.08 L524.06,212.67 L526.50,213.31 L528.94,214.13 L531.38,214.02 L533.82,213.20 L536.26,213.29 L538.70,214.61 L541.14,213.95 L543.58,214.22 L546.02,214.61 L548.46,214.90 L550.90,214.91 L553.34,215.96 L555.78,215.46 L558.22,216.55 L560.66,216.32 L563.10,215.92 L565.54,216.27 L567.98,217.29 L570.42,216.10 L572.86,216.90 L575.30,217.21 L577.74,218.56 L580.18,217.61 L582.62,218.39 L585.06,217.67 L587.50,218.25 L589.94,217.67 L592.38,218.16 L594.82,218.00 L597.26,219.07 L599.70,218.59 L602.14,218.53 L604.58,218.48 L607.02,219.59 L609.46,218.70 L611.90,218.77 L614.34,219.27 L616.78,218.79 L619.22,218.95 L621.66,219.97 L624.10,220.06 L626.54,220.92 L628.98,219.65 L631.42,219.55 L633.86,220.60 L636.30,220.26 L638.74,220.31 L641.18,220.39 L643.62,221.63 L646.06,220.48 L648.50,220.99 L650.94,220.91 L653.38,221.50 L655.82,221.18 L658.26,220.96 L660.70,221.33 L663.14,221.25 L665.58,222.75 L668.02,222.57 L670.46,222.08 L672.90,221.73" fill="none" stroke="#444" stroke-width="0.6" stroke-opacity="0.24" stroke-linejoin="round"/>
<path d="M433.78,115.95 L436.22,142.07 L438.66,154.03 L441.10,163.98 L443.54,171.14 L445.98,176.02 L448.42,179.61 L450.86,183.37 L453.30,186.19 L455.74,189.03 L458.18,190.09 L460.62,192.18 L463.06,193.29 L465.50,194.85 L467.94,197.03 L470.38,196.71 L472.82,199.93 L475.26,200.03 L477.70,201.27 L480.14,201.85 L482.58,203.34 L485.02,202.49 L487.46,204.24 L489.90,205.66 L492.34,205.01 L494.78,206.76 L497.22,206.33 L499.66,207.31 L502.10,207.29 L504.54,206.95 L506.98,207.72 L509.42,209.03 L511.86,208.59 L514.30,209.36 L516.74,210.33 L519.18,211.19 L521.62,210.57 L524.06,210.98 L526.50,210.46 L528.94,210.76 L531.38,211.82 L533.82,212.66 L536.26,211.79 L538.70,213.96 L541.14,213.99 L543.58,213.28 L546.02,213.42 L548.46,214.66 L550.90,213.86 L553.34,213.54 L555.78,214.85 L558.22,214.96 L560.66,215.60 L563.10,215.67 L565.54,214.45 L567.98,215.88 L570.42,214.86 L572.86,215.15 L575.30,216.00 L577.74,216.88 L580.18,215.55 L582.62,216.73 L585.06,217.06 L587.50,217.42 L589.94,216.20 L592.38,217.38 L594.82,217.96 L597.26,217.71 L599.70,218.60 L602.14,217.70 L604.58,218.21 L607.02,218.66 L609.46,217.79 L611.90,217.83 L614.34,219.64 L616.78,218.69 L619.22,219.35 L621.66,218.11 L624.10,218.55 L626.54,219.77 L628.98,219.84 L631.42,220.19 L633.86,218.58 L636.30,220.13 L638.74,219.59 L641.18,219.97 L643.62,219.72 L646.06,219.91 L648.50,219.73 L650.94,221.11 L653.38,219.89 L655.82,220.93 L658.26,220.55 L660.70,221.05 L663.14,221.23 L665.58,220.84 L668.02,221.07 L670.46,221.37 L672.90,220.67" fill="none" stroke="#444" stroke-width="0.6" stroke-opacity="0.24" stroke-linejoin="round"/>
<path d="M433.78,94.02 L436.22,128.77 L438.66,145.31 L441.10,155.87 L443.54,162.50 L445.98,168.69 L448.42,174.45 L450.86,179.75 L453.30,181.00 L455.74,184.67 L458.18,186.69 L460.62,188.46 L463.06,190.50 L465.50,192.52 L467.94,192.99 L470.38,195.58 L472.82,196.79 L475.26,196.86 L477.70,199.40 L480.14,200.13 L482.58,199.81 L485.02,202.36 L487.46,201.41 L489.90,202.45 L492.34,203.72 L494.78,204.68 L497.22,204.20 L499.66,204.49 L502.10,206.72 L504.54,206.50 L506.98,206.84 L509.42,207.42 L511.86,208.22 L514.30,209.03 L516.74,208.51 L519.18,208.42 L521.62,210.39 L524.06,210.40 L526.50,209.49 L528.94,209.88 L531.38,210.48 L533.82,212.14 L536.26,210.96 L538.70,210.71 L541.14,210.95 L543.58,211.85 L546.02,213.48 L548.46,212.06 L550.90,213.62 L553.34,212.97 L555.78,212.57 L558.22,213.30 L560.66,214.74 L563.10,214.63 L565.54,213.53 L567.98,215.35 L570.42,214.59 L572.86,215.20 L575.30,215.92 L577.74,215.15 L580.18,216.53 L582.62,216.58 L585.06,216.19 L587.50,217.00 L589.94,217.20 L592.38,216.29 L594.82,216.10 L597.26,215.98 L599.70,217.67 L602.14,217.21 L604.58,217.60 L607.02,217.15 L609.46,217.52 L611.90,216.74 L614.34,218.04 L616.78,218.83 L619.22,217.64 L621.66,218.89 L624.10,218.03 L626.54,218.41 L628.98,217.70 L631.42,218.56 L633.86,218.54 L636.30,219.39 L638.74,218.91 L641.18,219.64 L643.62,218.73 L646.06,219.32 L648.50,220.21 L650.94,220.11 L653.38,219.93 L655.82,219.29 L658.26,220.53 L660.70,219.53 L663.14,219.75 L665.58,221.02 L668.02,219.92 L670.46,221.19 L672.90,221.22" fill="none" stroke="#444" stroke-width="0.6" stroke-opacity="0.24" stroke-linejoin="round"/>
<path d="M433.78,131.48 L436.22,150.41 L438.66,161.73 L441.10,167.76 L443.54,175.81 L445.98,178.26 L448.42,183.77 L450.86,186.52 L453.30,187.01 L455.74,189.95 L458.18,193.05 L460.62,195.03 L463.06,194.49 L465.50,196.62 L467.94,197.51 L470.38,200.26 L472.82,200.17 L475.26,201.76 L477.70,202.93 L480.14,203.53 L482.58,203.66 L485.02,204.98 L487.46,205.57 L489.90,206.76 L492.34,205.81 L494.78,206.79 L497.22,206.98 L499.66,208.30 L502.10,207.86 L504.54,209.05 L506.98,209.32 L509.42,209.78 L511.86,209.82 L514.30,210.94 L516.74,211.95 L519.18,212.43 L521.62,212.40 L524.06,213.07 L526.50,211.57 L528.94,212.74 L531.38,212.43 L533.82,214.33 L536.26,213.60 L538.70,212.97 L541.14,213.79 L543.58,214.44 L546.02,214.59 L548.46,215.59 L550.90,215.70 L553.34,215.91 L555.78,215.67 L558.22,215.86 L560.66,215.02 L563.10,216.75 L565.54,216.73 L567.98,216.87 L570.42,217.29 L572.86,217.21 L575.30,217.49 L577.74,217.15 L580.18,218.25 L582.62,216.56 L585.06,217.87 L587.50,216.85 L589.94,217.52 L592.38,217.70 L594.82,218.27 L597.26,217.43 L599.70,219.28 L602.14,218.28 L604.58,219.19 L607.02,218.53 L609.46,218.55 L611.90,219.85 L614.34,219.89 L616.78,220.38 L619.22,220.07 L621.66,220.51 L624.10,219.96 L626.54,218.89 L628.98,220.26 L631.42,220.48 L633.86,220.26 L636.30,220.75 L638.74,219.93 L641.18,220.06 L643.62,221.30 L646.06,221.24 L648.50,220.46 L650.94,220.00 L653.38,220.70 L655.82,221.24 L658.26,220.21 L660.70,222.29 L663.14,222.27 L665.58,220.89 L668.02,221.73 L670.46,222.56 L672.90,221.62" fill="none" stroke="#444" stroke-width="0.6" stroke-opacity="0.24" stroke-linejoin="round"/>
<path d="M433.78,127.19 L436.22,148.01 L438.66,160.03 L441.10,168.75 L443.54,174.66 L445.98,176.90 L448.42,181.81 L450.86,183.76 L453.30,188.71 L455.74,190.49 L458.18,192.95 L460.62,193.85 L463.06,196.23 L465.50,197.16 L467.94,198.08 L470.38,199.47 L472.82,201.13 L475.26,202.13 L477.70,200.90 L480.14,203.54 L482.58,203.58 L485.02,204.55 L487.46,204.94 L489.90,206.58 L492.34,206.67 L494.78,207.70 L497.22,207.28 L499.66,206.96 L502.10,208.16 L504.54,208.06 L506.98,209.90 L509.42,210.74 L511.86,210.01 L514.30,210.51 L516.74,210.70 L519.18,211.47 L521.62,211.28 L524.06,211.39 L526.50,211.30 L528.94,212.90 L531.38,212.89 L533.82,212.37 L536.26,213.92 L538.70,214.41 L541.14,214.24 L543.58,214.96 L546.02,213.75 L548.46,213.89 L550.90,215.18 L553.34,215.79 L555.78,216.10 L558.22,215.97 L560.66,216.51 L563.10,215.99 L565.54,215.88 L567.98,216.76 L570.42,217.33 L572.86,216.18 L575.30,217.72 L577.74,217.57 L580.18,217.56 L582.62,217.54 L585.06,218.28 L587.50,217.77 L589.94,218.14 L592.38,217.38 L594.82,217.94 L597.26,217.38 L599.70,218.02 L602.14,217.94 L604.58,218.46 L607.02,218.87 L609.46,218.22 L611.90,218.68 L614.34,218.19 L616.78,218.79 L619.22,218.96 L621.66,219.97 L624.10,218.97 L626.54,219.97 L628.98,220.60 L631.42,220.85 L633.86,220.74 L636.30,220.66 L638.74,219.91 L641.18,220.82 L643.62,221.38 L646.06,220.04 L648.50,220.56 L650.94,221.75 L653.38,221.80 L655.82,221.73 L658.26,221.36 L660.70,220.42 L663.14,220.33 L665.58,221.11 L668.02,221.97 L670.46,221.65 L672.90,221.88" fill="none" stroke="#444" stroke-width="0.6" stroke-opacity="0.24" stroke-linejoin="round"/>
<path d="M433.78,123.03 L436.22,143.07 L438.66,156.08 L441.10,166.68 L443.54,171.60 L445.98,177.51 L448.42,179.95 L450.86,183.92 L453.30,185.40 L455.74,188.16 L458.18,191.91 L460.62,193.23 L463.06,193.40 L465.50,195.95 L467.94,197.33 L470.38,198.51 L472.82,198.84 L475.26,199.47 L477.70,201.32 L480.14,201.19 L482.58,202.85 L485.02,204.70 L487.46,203.81 L489.90,205.35 L492.34,206.78 L494.78,205.32 L497.22,207.95 L499.66,207.28 L502.10,207.98 L504.54,207.59 L506.98,209.10 L509.42,209.91 L511.86,210.19 L514.30,210.74 L516.74,210.34 L519.18,211.14 L521.62,210.64 L524.06,212.06 L526.50,212.15 L528.94,212.68 L531.38,211.41 L533.82,212.00 L536.26,212.26 L538.70,213.01 L541.14,213.73 L543.58,214.53 L546.02,213.31 L548.46,214.27 L550.90,215.45 L553.34,215.40 L555.78,215.77 L558.22,214.68 L560.66,214.51 L563.10,216.18 L565.54,215.13 L567.98,216.32 L570.42,215.75 L572.86,215.56 L575.30,216.24 L577.74,216.05 L580.18,217.10 L582.62,218.03 L585.06,217.15 L587.50,217.16 L589.94,218.15 L592.38,217.88 L594.82,218.18 L597.26,218.93 L599.70,218.48 L602.14,218.47 L604.58,218.42 L607.02,218.08 L609.46,218.84 L611.90,217.77 L614.34,218.24 L616.78,218.15 L619.22,218.75 L621.66,218.91 L624.10,219.31 L626.54,218.88 L628.98,219.90 L631.42,219.53 L633.86,219.47 L636.30,219.90 L638.74,220.50 L641.18,221.03 L643.62,221.11 L646.06,220.66 L648.50,220.30 L650.94,220.03 L653.38,220.22 L655.82,221.15 L658.26,219.97 L660.70,221.41 L663.14,220.60 L665.58,222.01 L668.02,220.70 L670.46,220.96 L672.90,220.46" fill="none" stroke="#444" stroke-width="0.6" stroke-opacity="0.24" stroke-linejoin="round"/>
<path d="M433.78,117.50 L436.22,141.23 L438.66,153.99 L441.10,163.31 L443.54,170.27 L445.98,176.48 L448.42,179.66 L450.86,182.00 L453.30,186.55 L455.74,187.10 L458.18,190.30 L460.62,192.52 L463.06,195.11 L465.50,195.66 L467.94,197.49 L470.38,197.59 L472.82,198.14 L475.26,199.14 L477.70,200.77 L480.14,202.16 L482.58,203.60 L485.02,203.05 L487.46,204.07 L489.90,204.38 L492.34,205.76 L494.78,205.22 L497.22,207.27 L499.66,207.59 L502.10,208.18 L504.54,207.88 L506.98,207.74 L509.42,209.76 L511.86,209.17 L514.30,209.28 L516.74,210.82 L519.18,211.53 L521.62,210.80 L524.06,210.57 L526.50,210.80 L528.94,211.43 L531.38,212.39 L533.82,212.66 L536.26,212.72 L538.70,212.20 L541.14,213.73 L543.58,214.03 L546.02,213.59 L548.46,213.06 L550.90,214.94 L553.34,215.49 L555.78,215.54 L558.22,214.82 L560.66,214.94 L563.10,216.03 L565.54,216.22 L567.98,215.57 L570.42,215.65 L572.86,215.75 L575.30,215.85 L577.74,217.42 L580.18,216.71 L582.62,216.15 L585.06,216.06 L587.50,217.55 L589.94,216.60 L592.38,217.18 L594.82,216.75 L597.26,218.34 L599.70,217.52 L602.14,217.37 L604.58,218.26 L607.02,219.17 L609.46,219.11 L611.90,219.32 L614.34,219.58 L616.78,219.59 L619.22,218.75 L621.66,219.93 L624.10,218.70 L626.54,218.87 L628.98,218.82 L631.42,218.96 L633.86,219.26 L636.30,218.93 L638.74,218.97 L641.18,219.76 L643.62,219.17 L646.06,221.04 L648.50,221.14 L650.94,221.32 L653.38,221.13 L655.82,220.88 L658.26,220.80 L660.70,220.44 L663.14,220.41 L665.58,221.85 L668.02,221.29 L670.46,221.09 L672.90,221.52" fill="none" stroke="#444" stroke-width="0.6" stroke-opacity="0.24" stroke-linejoin="round"/>
<path d="M433.78,104.25 L436.22,131.71 L438.66,148.39 L441.10,157.31 L443.54,164.93 L445.98,173.15 L448.42,175.74 L450.86,179.56 L453.30,183.77 L455.74,186.85 L458.18,188.22 L460.62,190.53 L463.06,191.38 L465.50,192.55 L467.94,195.26 L470.38,196.77 L472.82,197.47 L475.26,198.10 L477.70,198.90 L480.14,200.31 L482.58,201.81 L485.02,202.52 L487.46,202.12 L489.90,203.56 L492.34,205.26 L494.78,205.07 L497.22,206.06 L499.66,205.68 L502.10,207.50 L504.54,207.57 L506.98,208.43 L509.42,208.06 L511.86,207.40 L514.30,208.77 L516.74,209.50 L519.18,208.71 L521.62,210.88 L524.06,210.67 L526.50,210.03 L528.94,212.08 L531.38,210.77 L533.82,211.93 L536.26,212.95 L538.70,212.74 L541.14,212.57 L543.58,212.99 L546.02,212.97 L548.46,214.19 L550.90,214.08 L553.34,212.73 L555.78,214.08 L558.22,214.25 L560.66,215.28 L563.10,215.09 L565.54,213.88 L567.98,214.65 L570.42,215.22 L572.86,216.36 L575.30,215.84 L577.74,215.22 L580.18,216.12 L582.62,215.96 L585.06,215.49 L587.50,216.20 L589.94,216.38 L592.38,217.79 L594.82,217.97 L597.26,216.58 L599.70,217.47 L602.14,216.66 L604.58,216.91 L607.02,216.86 L609.46,218.11 L611.90,216.97 L614.34,217.60 L616.78,217.45 L619.22,219.12 L621.66,217.94 L624.10,218.80 L626.54,217.79 L628.98,217.87 L631.42,219.59 L633.86,219.28 L636.30,219.70 L638.74,219.41 L641.18,219.90 L643.62,219.22 L646.06,220.45 L648.50,220.46 L650.94,219.97 L653.38,220.86 L655.82,220.33 L658.26,219.37 L660.70,219.49 L663.14,221.00 L665.58,221.46 L668.02,219.89 L670.46,219.71 L672.90,220.55" fill="none" stroke="#444" stroke-width="0.6" stroke-opacity="0.24" stroke-linejoin="round"/>
<path d="M433.78,107.08 L436.22,134.48 L438.66,147.62 L441.10,157.94 L443.54,168.10 L445.98,173.22 L448.42,176.99 L450.86,181.07 L453.30,182.86 L455.74,186.45 L458.18,187.72 L460.62,191.24 L463.06,192.11 L465.50,192.61 L467.94,194.68 L470.38,197.41 L472.82,198.53 L475.26,198.38 L477.70,199.99 L480.14,200.93 L482.58,201.54 L485.02,202.10 L487.46,201.99 L489.90,204.31 L492.34,204.24 L494.78,205.54 L497.22,205.50 L499.66,205.65 L502.10,207.48 L504.54,207.23 L506.98,207.21 L509.42,209.18 L511.86,207.96 L514.30,209.14 L516.74,209.35 L519.18,209.50 L521.62,209.48 L524.06,211.40 L526.50,210.79 L528.94,212.10 L531.38,211.67 L533.82,212.05 L536.26,213.03 L538.70,212.73 L541.14,212.67 L543.58,212.50 L546.02,212.19 L548.46,213.60 L550.90,213.51 L553.34,213.36 L555.78,213.12 L558.22,213.32 L560.66,213.46 L563.10,215.12 L565.54,215.61 L567.98,214.21 L570.42,216.19 L572.86,215.61 L575.30,215.20 L577.74,215.82 L580.18,216.29 L582.62,215.35 L585.06,216.82 L587.50,216.46 L589.94,216.05 L592.38,217.64 L594.82,217.36 L597.26,217.22 L599.70,217.22 L602.14,218.11 L604.58,217.74 L607.02,218.70 L609.46,218.78 L611.90,218.39 L614.34,218.93 L616.78,217.36 L619.22,218.94 L621.66,219.04 L624.10,218.12 L626.54,218.33 L628.98,219.44 L631.42,218.39 L633.86,218.92 L636.30,219.52 L638.74,219.14 L641.18,220.04 L643.62,220.11 L646.06,218.96 L648.50,219.96 L650.94,219.12 L653.38,220.70 L655.82,220.88 L658.26,221.16 L660.70,219.84 L663.14,220.31 L665.58,221.53 L668.02,221.55 L670.46,220.05 L672.90,220.81" fill="none" stroke="#444" stroke-width="0.6" stroke-opacity="0.24" stroke-linejoin="round"/>
<path d="M433.78,117.96 L436.22,142.85 L438.66,153.93 L441.10,163.36 L443.54,169.97 L445.98,176.19 L448.42,178.26 L450.86,183.88 L453.30,186.82 L455.74,187.67 L458.18,191.27 L460.62,193.18 L463.06,193.88 L465.50,194.92 L467.94,195.69 L470.38,197.32 L472.82,199.95 L475.26,199.65 L477.70,200.14 L480.14,202.67 L482.58,202.05 L485.02,203.93 L487.46,204.55 L489.90,205.88 L492.34,204.83 L494.78,205.96 L497.22,205.67 L499.66,207.17 L502.10,208.35 L504.54,208.69 L506.98,209.05 L509.42,208.00 L511.86,210.02 L514.30,210.67 L516.74,210.48 L519.18,211.43 L521.62,211.04 L524.06,210.96 L526.50,211.22 L528.94,212.55 L531.38,212.92 L533.82,212.46 L536.26,212.33 L538.70,213.11 L541.14,213.10 L543.58,212.64 L546.02,214.50 L548.46,214.48 L550.90,214.24 L553.34,214.38 L555.78,213.84 L558.22,214.78 L560.66,214.77 L563.10,215.49 L565.54,214.92 L567.98,215.01 L570.42,216.34 L572.86,216.91 L575.30,216.78 L577.74,216.75 L580.18,215.82 L582.62,217.29 L585.06,216.69 L587.50,216.83 L589.94,216.34 L592.38,218.23 L594.82,217.03 L597.26,218.08 L599.70,218.71 L602.14,217.75 L604.58,217.45 L607.02,218.13 L609.46,219.37 L611.90,217.60 L614.34,218.94 L616.78,218.55 L619.22,218.49 L621.66,219.57 L624.10,219.38 L626.54,219.66 L628.98,220.26 L631.42,220.44 L633.86,219.21 L636.30,219.95 L638.74,219.11 L641.18,220.88 L643.62,220.49 L646.06,220.85 L648.50,219.38 L650.94,219.79 L653.38,219.68 L655.82,220.57 L658.26,221.49 L660.70,220.95 L663.14,221.43 L665.58,221.93 L668.02,220.92 L670.46,221.57 L672.90,222.03" fill="none" stroke="#444" stroke-width="0.6" stroke-opacity="0.24" stroke-linejoin="round"/>
<path d="M433.78,125.78 L436.22,144.08 L438.66,156.34 L441.10,166.30 L443.54,173.53 L445.98,176.38 L448.42,182.06 L450.86,184.12 L453.30,188.01 L455.74,188.03 L458.18,191.20 L460.62,193.25 L463.06,195.25 L465.50,196.02 L467.94,196.32 L470.38,198.79 L472.82,200.38 L475.26,200.67 L477.70,200.67 L480.14,202.74 L482.58,202.97 L485.02,203.07 L487.46,205.09 L489.90,204.67 L492.34,205.91 L494.78,207.35 L497.22,208.08 L499.66,206.66 L502.10,208.19 L504.54,208.70 L506.98,208.12 L509.42,209.29 L511.86,209.86 L514.30,210.71 L516.74,210.10 L519.18,211.50 L521.62,211.38 L524.06,211.10 L526.50,211.74 L528.94,213.05 L531.38,213.20 L533.82,212.44 L536.26,212.64 L538.70,214.23 L541.14,212.60 L543.58,214.67 L546.02,214.84 L548.46,215.23 L550.90,214.71 L553.34,214.57 L555.78,214.29 L558.22,215.96 L560.66,215.05 L563.10,216.49 L565.54,215.70 L567.98,216.58 L570.42,216.55 L572.86,217.36 L575.30,216.15 L577.74,217.57 L580.18,216.40 L582.62,217.46 L585.06,217.09 L587.50,217.15 L589.94,217.62 L592.38,216.97 L594.82,217.03 L597.26,218.49 L599.70,218.53 L602.14,217.55 L604.58,219.22 L607.02,218.76 L609.46,218.91 L611.90,217.88 L614.34,219.75 L616.78,218.79 L619.22,218.70 L621.66,218.88 L624.10,220.50 L626.54,218.67 L628.98,220.09 L631.42,219.09 L633.86,219.59 L636.30,220.20 L638.74,219.45 L641.18,219.88 L643.62,220.68 L646.06,219.97 L648.50,220.54 L650.94,220.21 L653.38,220.51 L655.82,220.23 L658.26,221.63 L660.70,221.04 L663.14,222.14 L665.58,220.61 L668.02,220.74 L670.46,220.70 L672.90,222.41" fill="none" stroke="#444" stroke-width="0.6" stroke-opacity="0.24" stroke-linejoin="round"/>
<path d="M433.78,144.47 L436.22,157.07 L438.66,163.42 L441.10,170.66 L443.54,177.73 L445.98,180.13 L448.42,184.03 L450.86,187.59 L453.30,189.34 L455.74,192.50 L458.18,194.23 L460.62,196.50 L463.06,196.39 L465.50,197.90 L467.94,198.72 L470.38,200.38 L472.82,201.54 L475.26,202.77 L477.70,202.64 L480.14,204.26 L482.58,204.50 L485.02,204.83 L487.46,206.19 L489.90,206.26 L492.34,208.23 L494.78,208.33 L497.22,207.57 L499.66,209.58 L502.10,210.24 L504.54,210.77 L506.98,209.56 L509.42,211.39 L511.86,211.02 L514.30,211.43 L516.74,211.00 L519.18,212.04 L521.62,212.27 L524.06,213.64 L526.50,212.30 L528.94,212.65 L531.38,213.24 L533.82,213.06 L536.26,213.79 L538.70,213.82 L541.14,213.78 L543.58,214.51 L546.02,216.00 L548.46,214.40 L550.90,214.40 L553.34,216.27 L555.78,216.77 L558.22,216.40 L560.66,217.10 L563.10,216.73 L565.54,217.50 L567.98,217.41 L570.42,218.04 L572.86,217.33 L575.30,217.77 L577.74,217.04 L580.18,217.91 L582.62,218.54 L585.06,217.05 L587.50,217.33 L589.94,217.91 L592.38,219.03 L594.82,218.79 L597.26,218.83 L599.70,219.05 L602.14,219.98 L604.58,219.22 L607.02,218.71 L609.46,218.99 L611.90,218.77 L614.34,219.25 L616.78,219.21 L619.22,219.10 L621.66,219.12 L624.10,219.49 L626.54,220.38 L628.98,219.99 L631.42,220.10 L633.86,219.74 L636.30,220.20 L638.74,220.85 L641.18,221.47 L643.62,221.29 L646.06,221.55 L648.50,220.76 L650.94,220.67 L653.38,221.95 L655.82,221.34 L658.26,220.80 L660.70,221.87 L663.14,222.51 L665.58,221.55 L668.02,222.13 L670.46,222.66 L672.90,222.45" fill="none" stroke="#444" stroke-width="0.6" stroke-opacity="0.24" stroke-linejoin="round"/>
<path d="M433.78,129.11 L436.22,147.69 L438.66,158.50 L441.10,167.72 L443.54,174.05 L445.98,177.19 L448.42,179.93 L450.86,183.48 L453.30,187.52 L455.74,188.32 L458.18,192.46 L460.62,194.06 L463.06,195.99 L465.50,197.29 L467.94,197.29 L470.38,198.11 L472.82,199.84 L475.26,200.08 L477.70,201.81 L480.14,201.60 L482.58,203.10 L485.02,204.00 L487.46,205.51 L489.90,205.59 L492.34,206.17 L494.78,205.90 L497.22,207.75 L499.66,208.13 L502.10,207.48 L504.54,209.57 L506.98,209.00 L509.42,210.11 L511.86,209.55 L514.30,210.10 L516.74,211.54 L519.18,210.53 L521.62,211.57 L524.06,212.08 L526.50,211.25 L528.94,211.73 L531.38,213.02 L533.82,212.52 L536.26,213.97 L538.70,213.40 L541.14,214.57 L543.58,213.64 L546.02,213.30 L548.46,214.12 L550.90,215.60 L553.34,214.83 L555.78,215.15 L558.22,215.41 L560.66,216.23 L563.10,216.17 L565.54,216.01 L567.98,216.99 L570.42,215.92 L572.86,217.00 L575.30,217.08 L577.74,217.67 L580.18,217.40 L582.62,216.26 L585.06,217.75 L587.50,218.31 L589.94,217.95 L592.38,216.86 L594.82,218.79 L597.26,218.40 L599.70,218.82 L602.14,217.98 L604.58,218.58 L607.02,219.46 L609.46,218.01 L611.90,219.25 L614.34,218.63 L616.78,219.24 L619.22,218.50 L621.66,220.30 L624.10,220.06 L626.54,220.06 L628.98,220.22 L631.42,219.18 L633.86,219.95 L636.30,220.38 L638.74,220.15 L641.18,219.56 L643.62,220.23 L646.06,220.58 L648.50,220.26 L650.94,220.44 L653.38,220.97 L655.82,221.02 L658.26,221.72 L660.70,221.18 L663.14,220.37 L665.58,221.63 L668.02,221.60 L670.46,221.20 L672.90,221.31" fill="none" stroke="#444" stroke-width="0.6" stroke-opacity="0.24" stroke-linejoin="round"/>
<path d="M433.78,111.80 L436.22,139.88 L438.66,153.73 L441.10,161.09 L443.54,167.61 L445.98,175.35 L448.42,179.51 L450.86,181.52 L453.30,185.35 L455.74,186.91 L458.18,190.64 L460.62,191.51 L463.06,193.93 L465.50,195.04 L467.94,195.56 L470.38,197.24 L472.82,197.59 L475.26,198.67 L477.70,200.15 L480.14,200.53 L482.58,202.88 L485.02,202.99 L487.46,204.06 L489.90,204.06 L492.34,205.85 L494.78,204.74 L497.22,206.45 L499.66,206.08 L502.10,206.25 L504.54,206.75 L506.98,208.41 L509.42,207.84 L511.86,207.96 L514.30,210.24 L516.74,209.30 L519.18,209.71 L521.62,210.65 L524.06,211.38 L526.50,211.93 L528.94,211.74 L531.38,210.93 L533.82,212.36 L536.26,212.95 L538.70,212.45 L541.14,213.10 L543.58,212.99 L546.02,213.57 L548.46,214.17 L550.90,214.93 L553.34,213.52 L555.78,214.08 L558.22,215.17 L560.66,214.85 L563.10,214.89 L565.54,215.26 L567.98,214.63 L570.42,215.08 L572.86,216.25 L575.30,216.37 L577.74,215.98 L580.18,217.09 L582.62,215.66 L585.06,217.68 L587.50,216.90 L589.94,217.53 L592.38,217.16 L594.82,218.31 L597.26,218.09 L599.70,216.65 L602.14,217.21 L604.58,218.53 L607.02,218.18 L609.46,219.19 L611.90,219.14 L614.34,219.13 L616.78,217.62 L619.22,219.13 L621.66,219.39 L624.10,219.89 L626.54,219.91 L628.98,218.21 L631.42,218.85 L633.86,218.59 L636.30,218.88 L638.74,219.10 L641.18,220.29 L643.62,220.57 L646.06,220.47 L648.50,220.99 L650.94,220.87 L653.38,219.85 L655.82,220.42 L658.26,221.50 L660.70,220.99 L663.14,219.97 L665.58,220.06 L668.02,220.40 L670.46,220.49 L672.90,220.21" fill="none" stroke="#444" stroke-width="0.6" stroke-opacity="0.24" stroke-linejoin="round"/>
<path d="M433.78,103.85 L436.22,133.21 L438.66,148.34 L441.10,159.65 L443.54,167.77 L445.98,172.74 L448.42,176.67 L450.86,181.25 L453.30,184.41 L455.74,186.60 L458.18,188.57 L460.62,189.13 L463.06,192.05 L465.50,192.80 L467.94,194.46 L470.38,196.12 L472.82,197.93 L475.26,198.85 L477.70,200.02 L480.14,200.23 L482.58,200.59 L485.02,201.54 L487.46,203.40 L489.90,204.43 L492.34,205.40 L494.78,204.74 L497.22,206.12 L499.66,207.16 L502.10,207.04 L504.54,207.70 L506.98,208.23 L509.42,207.68 L511.86,208.29 L514.30,209.36 L516.74,208.79 L519.18,210.30 L521.62,209.13 L524.06,211.20 L526.50,210.53 L528.94,210.61 L531.38,210.87 L533.82,211.69 L536.26,211.17 L538.70,211.96 L541.14,212.11 L543.58,213.66 L546.02,213.69 L548.46,213.35 L550.90,213.42 L553.34,214.60 L555.78,213.48 L558.22,214.53 L560.66,214.49 L563.10,214.60 L565.54,214.15 L567.98,215.47 L570.42,215.13 L572.86,215.23 L575.30,215.32 L577.74,216.22 L580.18,216.47 L582.62,216.24 L585.06,216.14 L587.50,216.22 L589.94,217.45 L592.38,216.96 L594.82,216.88 L597.26,217.79 L599.70,218.13 L602.14,216.57 L604.58,218.59 L607.02,217.74 L609.46,218.31 L611.90,218.99 L614.34,218.63 L616.78,218.98 L619.22,218.62 L621.66,217.69 L624.10,219.53 L626.54,219.09 L628.98,218.50 L631.42,218.77 L633.86,220.12 L636.30,219.81 L638.74,219.81 L641.18,218.66 L643.62,219.70 L646.06,220.19 L648.50,219.84 L650.94,219.93 L653.38,220.72 L655.82,219.76 L658.26,219.75 L660.70,220.34 L663.14,220.32 L665.58,219.93 L668.02,219.65 L670.46,220.44 L672.90,221.70" fill="none" stroke="#444" stroke-width="0.6" stroke-opacity="0.24" stroke-linejoin="round"/>
<path d="M433.78,150.05 L436.22,159.14 L438.66,168.37 L441.10,173.63 L443.54,178.43 L445.98,182.14 L448.42,184.65 L450.86,187.95 L453.30,190.27 L455.74,192.31 L458.18,195.27 L460.62,195.90 L463.06,197.30 L465.50,199.91 L467.94,199.43 L470.38,201.73 L472.82,202.08 L475.26,202.91 L477.70,203.29 L480.14,203.97 L482.58,205.36 L485.02,204.98 L487.46,206.73 L489.90,207.05 L492.34,206.67 L494.78,208.68 L497.22,208.33 L499.66,208.28 L502.10,210.64 L504.54,209.56 L506.98,210.25 L509.42,210.89 L511.86,210.72 L514.30,210.93 L516.74,212.82 L519.18,212.42 L521.62,212.46 L524.06,212.59 L526.50,212.33 L528.94,212.95 L531.38,213.17 L533.82,215.06 L536.26,214.54 L538.70,213.76 L541.14,213.93 L543.58,214.56 L546.02,215.68 L548.46,214.98 L550.90,215.69 L553.34,215.62 L555.78,215.89 L558.22,215.61 L560.66,216.12 L563.10,215.78 L565.54,216.96 L567.98,217.14 L570.42,216.98 L572.86,217.35 L575.30,218.59 L577.74,216.85 L580.18,218.35 L582.62,218.13 L585.06,219.23 L587.50,219.07 L589.94,217.69 L592.38,219.18 L594.82,219.28 L597.26,218.35 L599.70,219.67 L602.14,218.92 L604.58,219.25 L607.02,218.70 L609.46,219.69 L611.90,220.12 L614.34,220.38 L616.78,220.29 L619.22,221.15 L621.66,221.02 L624.10,221.07 L626.54,220.84 L628.98,220.01 L631.42,219.76 L633.86,221.07 L636.30,221.39 L638.74,221.40 L641.18,220.81 L643.62,221.21 L646.06,222.05 L648.50,221.31 L650.94,221.93 L653.38,222.28 L655.82,221.05 L658.26,222.53 L660.70,221.94 L663.14,221.36 L665.58,221.90 L668.02,221.30 L670.46,222.53 L672.90,221.32" fill="none" stroke="#444" stroke-width="0.6" stroke-opacity="0.24" stroke-linejoin="round"/>
<path d="M433.78,125.17 L436.22,142.47 L438.66,156.90 L441.10,166.80 L443.54,172.26 L445.98,175.07 L448.42,179.82 L450.86,183.05 L453.30,185.64 L455.74,190.07 L458.18,191.37 L460.62,192.80 L463.06,193.35 L465.50,194.82 L467.94,197.94 L470.38,197.17 L472.82,199.28 L475.26,200.87 L477.70,202.30 L480.14,202.38 L482.58,202.97 L485.02,203.87 L487.46,204.89 L489.90,204.13 L492.34,205.80 L494.78,206.76 L497.22,206.28 L499.66,207.97 L502.10,208.08 L504.54,209.24 L506.98,209.40 L509.42,208.18 L511.86,209.41 L514.30,210.01 L516.74,210.07 L519.18,210.43 L521.62,211.10 L524.06,211.77 L526.50,212.55 L528.94,213.11 L531.38,213.21 L533.82,212.89 L536.26,214.01 L538.70,212.87 L541.14,213.84 L543.58,214.31 L546.02,214.38 L548.46,214.24 L550.90,215.06 L553.34,213.94 L555.78,214.93 L558.22,216.02 L560.66,216.19 L563.10,214.71 L565.54,215.56 L567.98,216.36 L570.42,215.67 L572.86,217.24 L575.30,215.67 L577.74,215.74 L580.18,216.48 L582.62,217.93 L585.06,217.31 L587.50,216.62 L589.94,217.28 L592.38,218.23 L594.82,218.33 L597.26,218.83 L599.70,218.02 L602.14,218.87 L604.58,218.46 L607.02,217.66 L609.46,217.79 L611.90,218.76 L614.34,218.29 L616.78,219.75 L619.22,218.20 L621.66,218.49 L624.10,219.40 L626.54,218.68 L628.98,220.01 L631.42,218.72 L633.86,220.18 L636.30,219.05 L638.74,219.34 L641.18,219.25 L643.62,219.78 L646.06,221.22 L648.50,220.90 L650.94,220.23 L653.38,219.81 L655.82,220.37 L658.26,221.78 L660.70,221.24 L663.14,221.34 L665.58,221.78 L668.02,221.76 L670.46,221.26 L672.90,221.64" fill="none" stroke="#444" stroke-width="0.6" stroke-opacity="0.24" stroke-linejoin="round"/>
<path d="M433.78,121.84 L436.22,144.35 L438.66,156.26 L441.10,164.23 L443.54,173.26 L445.98,175.65 L448.42,181.75 L450.86,184.70 L453.30,186.02 L455.74,188.36 L458.18,190.77 L460.62,192.93 L463.06,193.95 L465.50,196.10 L467.94,197.96 L470.38,199.09 L472.82,200.42 L475.26,201.59 L477.70,200.42 L480.14,201.29 L482.58,203.46 L485.02,204.06 L487.46,205.06 L489.90,204.59 L492.34,205.85 L494.78,207.15 L497.22,206.13 L499.66,206.55 L502.10,208.98 L504.54,208.55 L506.98,209.51 L509.42,209.04 L511.86,210.05 L514.30,210.57 L516.74,210.94 L519.18,210.64 L521.62,211.21 L524.06,211.57 L526.50,211.48 L528.94,212.23 L531.38,211.52 L533.82,212.89 L536.26,212.41 L538.70,212.39 L541.14,213.30 L543.58,213.61 L546.02,213.43 L548.46,213.83 L550.90,215.15 L553.34,214.91 L555.78,215.68 L558.22,216.18 L560.66,214.99 L563.10,215.94 L565.54,216.30 L567.98,216.97 L570.42,217.16 L572.86,215.99 L575.30,216.82 L577.74,216.84 L580.18,216.51 L582.62,216.19 L585.06,216.79 L587.50,217.95 L589.94,216.51 L592.38,218.33 L594.82,217.66 L597.26,217.67 L599.70,218.55 L602.14,217.45 L604.58,218.17 L607.02,218.09 L609.46,219.41 L611.90,218.10 L614.34,219.36 L616.78,218.80 L619.22,218.68 L621.66,219.65 L624.10,219.89 L626.54,219.87 L628.98,218.65 L631.42,219.43 L633.86,219.92 L636.30,219.84 L638.74,219.76 L641.18,220.67 L643.62,221.16 L646.06,221.19 L648.50,220.32 L650.94,220.38 L653.38,219.70 L655.82,220.53 L658.26,220.15 L660.70,219.97 L663.14,221.07 L665.58,221.31 L668.02,221.30 L670.46,221.59 L672.90,220.88" fill="none" stroke="#444" stroke-width="0.6" stroke-opacity="0.24" stroke-linejoin="round"/>
<path d="M433.78,102.74 L436.22,133.63 L438.66,146.57 L441.10,158.53 L443.54,165.37 L445.98,171.69 L448.42,176.11 L450.86,179.85 L453.30,184.15 L455.74,186.74 L458.18,187.53 L460.62,190.48 L463.06,192.79 L465.50,192.73 L467.94,194.34 L470.38,195.61 L472.82,197.68 L475.26,199.35 L477.70,198.92 L480.14,201.08 L482.58,200.92 L485.02,201.67 L487.46,203.37 L489.90,204.67 L492.34,204.03 L494.78,204.21 L497.22,205.25 L499.66,204.94 L502.10,207.13 L504.54,206.53 L506.98,207.66 L509.42,207.80 L511.86,208.84 L514.30,209.41 L516.74,209.12 L519.18,209.38 L521.62,209.10 L524.06,210.10 L526.50,210.67 L528.94,210.67 L531.38,211.03 L533.82,211.80 L536.26,212.40 L538.70,211.80 L541.14,212.69 L543.58,213.70 L546.02,213.67 L548.46,213.52 L550.90,213.07 L553.34,213.37 L555.78,213.96 L558.22,213.50 L560.66,214.75 L563.10,214.91 L565.54,214.28 L567.98,214.64 L570.42,215.37 L572.86,214.59 L575.30,216.58 L577.74,215.71 L580.18,215.22 L582.62,215.35 L585.06,216.95 L587.50,215.84 L589.94,216.57 L592.38,215.90 L594.82,217.32 L597.26,216.77 L599.70,216.97 L602.14,216.40 L604.58,217.89 L607.02,217.93 L609.46,218.62 L611.90,217.60 L614.34,219.00 L616.78,217.52 L619.22,219.10 L621.66,219.14 L624.10,217.70 L626.54,218.75 L628.98,218.34 L631.42,219.30 L633.86,219.63 L636.30,219.49 L638.74,218.34 L641.18,220.07 L643.62,218.72 L646.06,218.87 L648.50,219.39 L650.94,220.34 L653.38,219.49 L655.82,219.24 L658.26,219.97 L660.70,220.84 L663.14,220.13 L665.58,219.52 L668.02,220.36 L670.46,221.36 L672.90,221.34" fill="none" stroke="#444" stroke-width="0.6" stroke-opacity="0.24" stroke-linejoin="round"/>
<path d="M433.78,128.46 L436.22,146.39 L438.66,158.80 L441.10,166.27 L443.54,173.66 L445.98,177.01 L448.42,180.56 L450.86,184.73 L453.30,186.74 L455.74,189.22 L458.18,190.61 L460.62,192.93 L463.06,194.39 L465.50,196.00 L467.94,196.69 L470.38,199.58 L472.82,200.61 L475.26,199.87 L477.70,200.87 L480.14,203.60 L482.58,202.39 L485.02,203.78 L487.46,203.92 L489.90,204.92 L492.34,206.26 L494.78,207.41 L497.22,206.53 L499.66,207.17 L502.10,208.19 L504.54,209.09 L506.98,209.33 L509.42,208.52 L511.86,209.95 L514.30,210.88 L516.74,209.58 L519.18,209.96 L521.62,212.02 L524.06,212.31 L526.50,211.49 L528.94,212.52 L531.38,212.63 L533.82,212.47 L536.26,213.62 L538.70,213.20 L541.14,214.28 L543.58,214.49 L546.02,214.05 L548.46,214.53 L550.90,213.77 L553.34,215.58 L555.78,214.17 L558.22,215.76 L560.66,215.80 L563.10,216.50 L565.54,216.26 L567.98,215.06 L570.42,216.54 L572.86,215.73 L575.30,215.62 L577.74,216.38 L580.18,217.62 L582.62,217.27 L585.06,217.98 L587.50,217.97 L589.94,217.94 L592.38,218.45 L594.82,217.53 L597.26,218.00 L599.70,218.62 L602.14,218.84 L604.58,219.21 L607.02,219.40 L609.46,218.86 L611.90,219.74 L614.34,218.95 L616.78,219.62 L619.22,218.68 L621.66,219.84 L624.10,218.74 L626.54,218.68 L628.98,218.82 L631.42,220.38 L633.86,219.05 L636.30,220.10 L638.74,219.35 L641.18,220.32 L643.62,220.27 L646.06,220.95 L648.50,220.03 L650.94,220.92 L653.38,219.96 L655.82,220.42 L658.26,221.09 L660.70,221.99 L663.14,221.60 L665.58,221.38 L668.02,221.57 L670.46,221.22 L672.90,222.49" fill="none" stroke="#444" stroke-width="0.6" stroke-opacity="0.24" stroke-linejoin="round"/>
<path d="M433.78,126.42 L436.22,144.50 L438.66,156.49 L441.10,165.74 L443.54,171.91 L445.98,176.95 L448.42,179.73 L450.86,183.53 L453.30,187.10 L455.74,189.34 L458.18,190.27 L460.62,193.03 L463.06,194.52 L465.50,196.65 L467.94,197.10 L470.38,198.69 L472.82,198.72 L475.26,199.59 L477.70,200.53 L480.14,201.49 L482.58,204.34 L485.02,205.00 L487.46,205.10 L489.90,204.66 L492.34,205.87 L494.78,207.12 L497.22,208.01 L499.66,208.20 L502.10,208.95 L504.54,209.38 L506.98,208.52 L509.42,210.14 L511.86,210.61 L514.30,210.02 L516.74,211.44 L519.18,210.29 L521.62,211.02 L524.06,210.87 L526.50,211.51 L528.94,211.81 L531.38,213.09 L533.82,213.04 L536.26,213.40 L538.70,213.64 L541.14,212.80 L543.58,214.05 L546.02,213.53 L548.46,214.11 L550.90,215.49 L553.34,215.45 L555.78,214.90 L558.22,214.67 L560.66,216.04 L563.10,216.21 L565.54,216.14 L567.98,216.16 L570.42,216.43 L572.86,215.56 L575.30,216.40 L577.74,217.26 L580.18,217.29 L582.62,217.12 L585.06,218.00 L587.50,217.68 L589.94,218.52 L592.38,217.44 L594.82,217.15 L597.26,217.23 L599.70,218.00 L602.14,218.58 L604.58,218.36 L607.02,218.50 L609.46,219.41 L611.90,218.79 L614.34,219.01 L616.78,219.75 L619.22,219.37 L621.66,218.68 L624.10,219.20 L626.54,219.96 L628.98,220.26 L631.42,219.56 L633.86,219.83 L636.30,220.46 L638.74,220.21 L641.18,220.45 L643.62,220.10 L646.06,219.69 L648.50,220.82 L650.94,220.58 L653.38,220.63 L655.82,220.51 L658.26,221.47 L660.70,221.56 L663.14,220.27 L665.58,221.95 L668.02,220.94 L670.46,221.89 L672.90,221.50" fill="none" stroke="#444" stroke-width="0.6" stroke-opacity="0.24" stroke-linejoin="round"/>
<path d="M433.78,96.92 L436.22,125.01 L438.66,140.97 L441.10,147.09 L443.54,160.11 L445.98,165.63 L448.42,167.69 L450.86,173.55 L453.30,177.81 L455.74,178.26 L458.18,180.03 L460.62,185.59 L463.06,185.59 L465.50,188.70 L467.94,187.97 L470.38,191.09 L472.82,191.33 L475.26,193.51 L477.70,196.72 L480.14,196.63 L482.58,196.65 L485.02,199.67 L487.46,200.79 L489.90,198.29 L492.34,199.32 L494.78,201.07 L497.22,203.90 L499.66,202.25 L502.10,201.84 L504.54,203.18 L506.98,203.99 L509.42,205.52 L511.86,205.35 L514.30,204.80 L516.74,206.78 L519.18,208.73 L521.62,208.91 L524.06,206.49 L526.50,207.74 L528.94,207.34 L531.38,210.45 L533.82,210.95 L536.26,209.28 L538.70,210.50 L541.14,210.69 L543.58,211.80 L546.02,210.27 L548.46,210.49 L550.90,210.96 L553.34,212.26 L555.78,212.32 L558.22,212.91 L560.66,212.92 L563.10,213.65 L565.54,213.40 L567.98,211.96 L570.42,212.73 L572.86,215.22 L575.30,213.62 L577.74,213.32 L580.18,215.14 L582.62,213.50 L585.06,213.52 L587.50,216.65 L589.94,214.96 L592.38,215.97 L594.82,215.86 L597.26,215.76 L599.70,214.88 L602.14,215.82 L604.58,215.12 L607.02,217.42 L609.46,215.74 L611.90,217.25 L614.34,218.10 L616.78,216.17 L619.22,217.07 L621.66,218.39 L624.10,216.30 L626.54,217.77 L628.98,217.30 L631.42,216.39 L633.86,218.71 L636.30,218.12 L638.74,218.23 L641.18,219.22 L643.62,218.52 L646.06,217.20 L648.50,218.21 L650.94,219.76 L653.38,218.48 L655.82,218.82 L658.26,219.74 L660.70,218.85 L663.14,219.93 L665.58,218.69 L668.02,220.10 L670.46,218.75 L672.90,220.60" fill="none" stroke="#888" stroke-width="0.45" stroke-opacity="0.8" stroke-linejoin="round"/>
<path d="M433.78,122.03 L436.22,143.51 L438.66,156.26 L441.10,164.93 L443.54,171.30 L445.98,176.25 L448.42,180.23 L450.86,183.52 L453.30,186.30 L455.74,188.69 L458.18,190.77 L460.62,192.60 L463.06,194.23 L465.50,195.69 L467.94,197.02 L470.38,198.22 L472.82,199.32 L475.26,200.33 L477.70,201.27 L480.14,202.13 L482.58,202.94 L485.02,203.69 L487.46,204.40 L489.90,205.06 L492.34,205.68 L494.78,206.27 L497.22,206.82 L499.66,207.35 L502.10,207.85 L504.54,208.32 L506.98,208.77 L509.42,209.20 L511.86,209.62 L514.30,210.01 L516.74,210.39 L519.18,210.75 L521.62,211.10 L524.06,211.43 L526.50,211.75 L528.94,212.06 L531.38,212.36 L533.82,212.64 L536.26,212.92 L538.70,213.19 L541.14,213.45 L543.58,213.70 L546.02,213.94 L548.46,214.18 L550.90,214.40 L553.34,214.63 L555.78,214.86 L558.22,215.07 L560.66,215.28 L563.10,215.49 L565.54,215.69 L567.98,215.88 L570.42,216.07 L572.86,216.26 L575.30,216.44 L577.74,216.61 L580.18,216.79 L582.62,216.95 L585.06,217.12 L587.50,217.28 L589.94,217.44 L592.38,217.59 L594.82,217.74 L597.26,217.89 L599.70,218.03 L602.14,218.17 L604.58,218.31 L607.02,218.45 L609.46,218.58 L611.90,218.71 L614.34,218.84 L616.78,218.97 L619.22,219.09 L621.66,219.21 L624.10,219.33 L626.54,219.45 L628.98,219.56 L631.42,219.68 L633.86,219.79 L636.30,219.90 L638.74,220.00 L641.18,220.11 L643.62,220.21 L646.06,220.32 L648.50,220.42 L650.94,220.52 L653.38,220.61 L655.82,220.71 L658.26,220.81 L660.70,220.90 L663.14,220.99 L665.58,221.08 L668.02,221.17 L670.46,221.26 L672.90,221.35" fill="none" stroke="#111" stroke-width="1.0" stroke-opacity="1" stroke-linejoin="round"/>
<line x1="502.10" y1="237.40" x2="502.10" y2="207.85" stroke="#f03030" stroke-width="0.9" stroke-dasharray="2.5 2.8"/>
<line x1="502.10" y1="207.85" x2="538.40" y2="158.50" stroke="#f03030" stroke-width="0.9" stroke-dasharray="2.5 2.8"/>
<text x="540.90" y="161.00" font-size="7.0" text-anchor="start" fill="#111" font-weight="normal" stroke="#111" stroke-width="0.1">0.15 [0.18]</text>
<line x1="575.30" y1="237.40" x2="575.30" y2="216.44" stroke="#f03030" stroke-width="0.9" stroke-dasharray="2.5 2.8"/>
<line x1="575.30" y1="216.44" x2="599.40" y2="187.50" stroke="#f03030" stroke-width="0.9" stroke-dasharray="2.5 2.8"/>
<text x="601.90" y="190.00" font-size="7.0" text-anchor="start" fill="#111" font-weight="normal" stroke="#111" stroke-width="0.1">0.1 [0.13]</text>
<line x1="648.50" y1="237.40" x2="648.50" y2="204.50" stroke="#f03030" stroke-width="0.9" stroke-dasharray="2.5 2.8"/>
<text x="643.60" y="202.00" font-size="7.0" text-anchor="start" fill="#111" font-weight="normal" stroke="#111" stroke-width="0.1">0.09 [0.11]</text>
<rect x="636" y="33.3" width="43.6" height="25.7" fill="#fff" stroke="#d0d0d0" stroke-width="0.6"/>
<line x1="637.4" x2="648.6" y1="40.4" y2="40.4" stroke="#555" stroke-width="1.1"/>
<rect x="638" y="48" width="10" height="7" fill="#b3b3b3"/>
<text x="664.50" y="42.80" font-size="7.0" text-anchor="middle" fill="#000" font-weight="normal" stroke="#000" stroke-width="0.12">Median</text>
<text x="662.10" y="54.10" font-size="7.0" text-anchor="middle" fill="#000" font-weight="normal" stroke="#000" stroke-width="0.12">IQR</text>
<rect x="419.40" y="29.00" width="265.00" height="218.00" fill="none" stroke="#8a8a8a" stroke-width="0.9"/>
<line x1="416.60" x2="419.40" y1="237.40" y2="237.40" stroke="#444" stroke-width="0.8"/>
<text x="415.30" y="240.67" font-size="7.7" text-anchor="end" fill="#555" font-weight="normal" transform="translate(415.30 240.67) scale(1 1.18) translate(-415.30 -240.67)">0.00</text>
<line x1="416.60" x2="419.40" y1="187.75" y2="187.75" stroke="#444" stroke-width="0.8"/>
<text x="415.30" y="191.02" font-size="7.7" text-anchor="end" fill="#555" font-weight="normal" transform="translate(415.30 191.02) scale(1 1.18) translate(-415.30 -191.02)">0.25</text>
<line x1="416.60" x2="419.40" y1="138.10" y2="138.10" stroke="#444" stroke-width="0.8"/>
<text x="415.30" y="141.37" font-size="7.7" text-anchor="end" fill="#555" font-weight="normal" transform="translate(415.30 141.37) scale(1 1.18) translate(-415.30 -141.37)">0.50</text>
<line x1="416.60" x2="419.40" y1="88.45" y2="88.45" stroke="#444" stroke-width="0.8"/>
<text x="415.30" y="91.72" font-size="7.7" text-anchor="end" fill="#555" font-weight="normal" transform="translate(415.30 91.72) scale(1 1.18) translate(-415.30 -91.72)">0.75</text>
<line x1="416.60" x2="419.40" y1="38.80" y2="38.80" stroke="#444" stroke-width="0.8"/>
<text x="415.30" y="42.07" font-size="7.7" text-anchor="end" fill="#555" font-weight="normal" transform="translate(415.30 42.07) scale(1 1.18) translate(-415.30 -42.07)">1.00</text>
<line x1="428.90" x2="428.90" y1="247.00" y2="249.80" stroke="#444" stroke-width="0.8"/>
<text x="428.90" y="257.30" font-size="7.7" text-anchor="middle" fill="#555" font-weight="normal" transform="translate(428.90 257.30) scale(1 1.24) translate(-428.90 -257.30)">0</text>
<line x1="502.10" x2="502.10" y1="247.00" y2="249.80" stroke="#444" stroke-width="0.8"/>
<text x="502.10" y="257.30" font-size="7.7" text-anchor="middle" fill="#555" font-weight="normal" transform="translate(502.10 257.30) scale(1 1.24) translate(-502.10 -257.30)">30</text>
<line x1="575.30" x2="575.30" y1="247.00" y2="249.80" stroke="#444" stroke-width="0.8"/>
<text x="575.30" y="257.30" font-size="7.7" text-anchor="middle" fill="#555" font-weight="normal" transform="translate(575.30 257.30) scale(1 1.24) translate(-575.30 -257.30)">60</text>
<line x1="648.50" x2="648.50" y1="247.00" y2="249.80" stroke="#444" stroke-width="0.8"/>
<text x="648.50" y="257.30" font-size="7.7" text-anchor="middle" fill="#555" font-weight="normal" transform="translate(648.50 257.30) scale(1 1.24) translate(-648.50 -257.30)">90</text>
<text x="395.30" y="138.70" font-size="9.85" text-anchor="middle" fill="#000" font-weight="normal" transform="rotate(-90 395.30 138.70)">SPI Absolute Error</text>
<text x="551.90" y="268.70" font-size="9.75" text-anchor="middle" fill="#000" font-weight="normal">Number of Observations in Climatology</text>
</svg>
</body></html>
